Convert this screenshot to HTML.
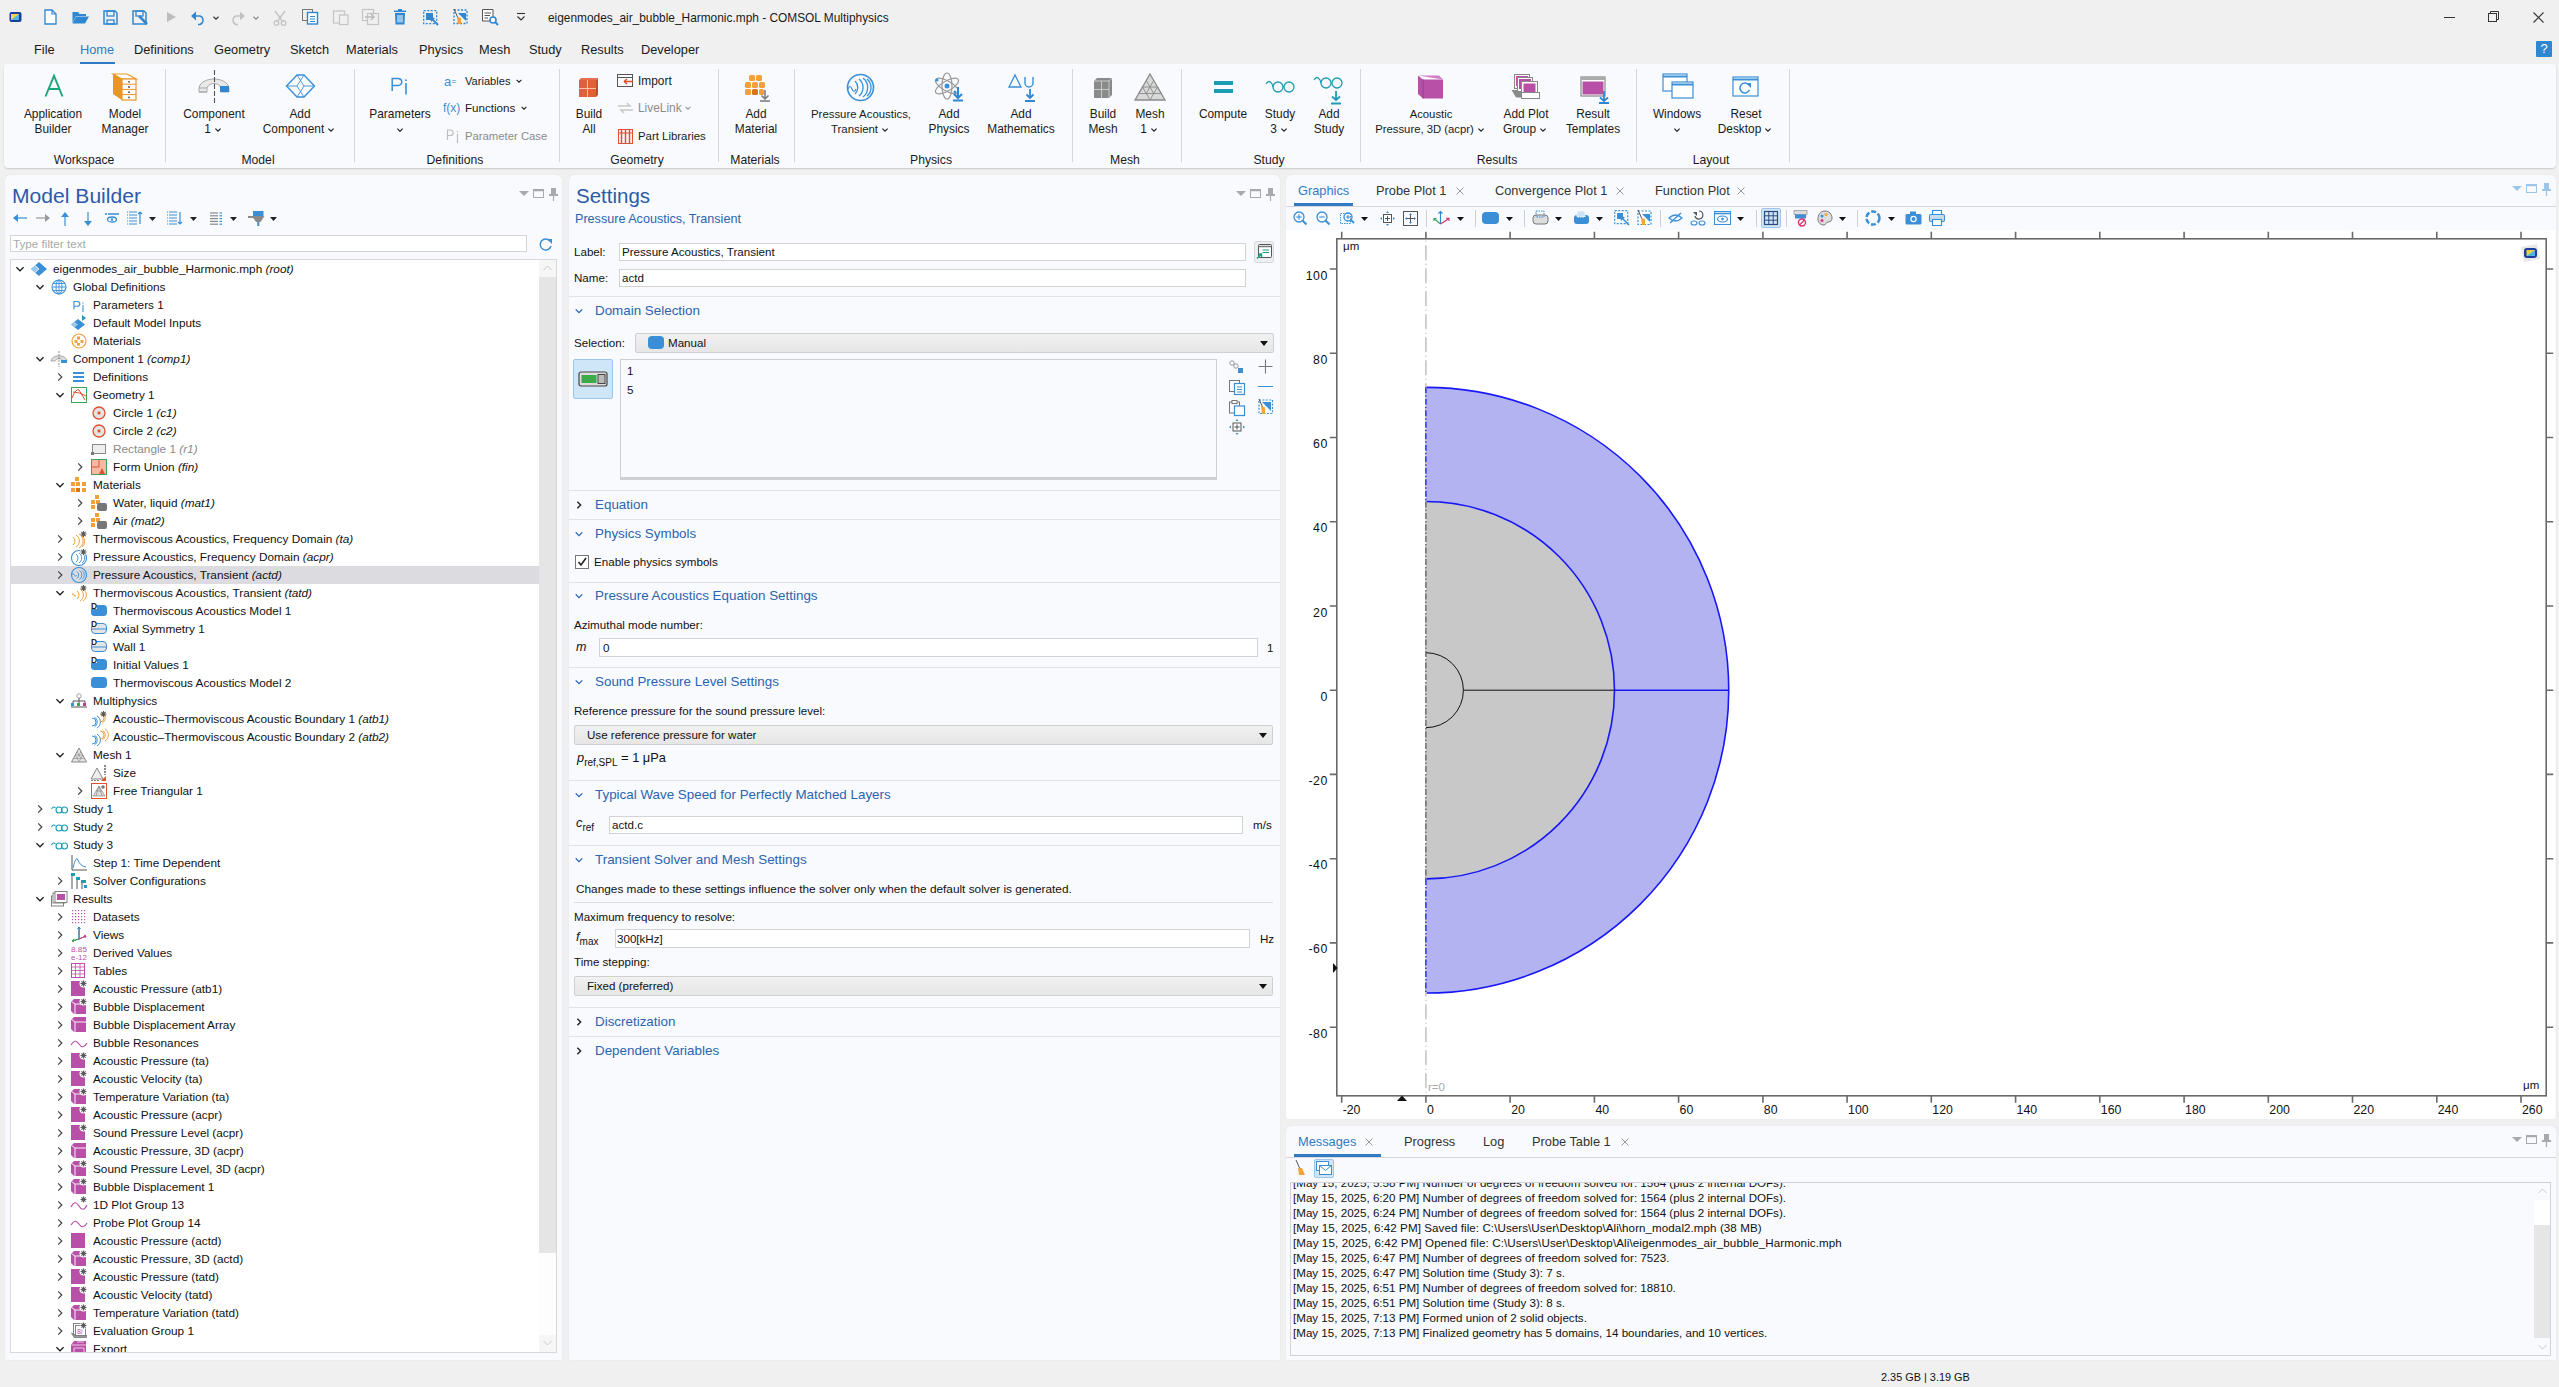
<!DOCTYPE html>
<html><head><meta charset="utf-8"><title>COMSOL</title>
<style>
html,body{margin:0;padding:0;}
body{width:2559px;height:1387px;overflow:hidden;background:#f0f0f0;font-family:"Liberation Sans",sans-serif;position:relative;}
svg text{font-family:"Liberation Sans",sans-serif;}
</style></head><body>
<svg style="position:absolute;left:9px;top:11px;overflow:visible" width="13" height="12" viewBox="0 0 13 12"><rect x="0.5" y="1" width="12" height="10" rx="2" fill="#1c3f9a"/><rect x="2" y="3" width="8" height="6" fill="#f2d64b"/><path d="M2,9 L10,3 L10,9Z" fill="#4fb3e8"/></svg><svg style="position:absolute;left:44px;top:9px;overflow:visible" width="13" height="16" viewBox="0 0 13 16"><path d="M1,1 H8 L12,5 V15 H1 Z" fill="#fff" stroke="#2f86d1" stroke-width="1.3"/><path d="M8,1 V5 H12" fill="none" stroke="#2f86d1" stroke-width="1.2"/></svg><svg style="position:absolute;left:72px;top:11px;overflow:visible" width="17" height="13" viewBox="0 0 17 13"><path d="M0.5,1 H6 L7.5,3 H14 V5 H4 L0.5,12 Z" fill="#2f86d1"/><path d="M4,5.5 H17 L13,12.5 H0.5 Z" fill="#2f86d1"/></svg><svg style="position:absolute;left:103px;top:10px;overflow:visible" width="15" height="15" viewBox="0 0 15 15"><path d="M1,1 H12 L14,3 V14 H1 Z" fill="none" stroke="#2f86d1" stroke-width="1.5"/><rect x="4" y="1" width="7" height="5" fill="none" stroke="#2f86d1" stroke-width="1.3"/><rect x="4" y="10" width="7" height="4" fill="none" stroke="#2f86d1" stroke-width="1.3"/></svg><svg style="position:absolute;left:132px;top:10px;overflow:visible" width="17" height="16" viewBox="0 0 17 16"><path d="M1,1 H12 L14,3 V14 H1 Z" fill="none" stroke="#2f86d1" stroke-width="1.5"/><rect x="4" y="1" width="7" height="5" fill="none" stroke="#2f86d1" stroke-width="1.3"/><path d="M7,6 L15,14" stroke="#2f86d1" stroke-width="2.5"/></svg><svg style="position:absolute;left:167px;top:12px;overflow:visible" width="9" height="10" viewBox="0 0 9 10"><path d="M0,0 L9,5 L0,10Z" fill="#bdbdbd"/></svg><svg style="position:absolute;left:190px;top:11px;overflow:visible" width="16" height="14" viewBox="0 0 16 14"><path d="M1,5 L6,0.5 L6,9.5Z" fill="#2f86d1"/><path d="M5,5 H10 A4.5,4.5 0 0 1 10,13.5 H8" fill="none" stroke="#2f86d1" stroke-width="1.4"/></svg><svg style="position:absolute;left:210px;top:12px;overflow:visible" width="12" height="12" viewBox="0 0 12 12"><path d="M3.5,4.75 L6,7.25 L8.5,4.75" fill="none" stroke="#333" stroke-width="1.2"/></svg><svg style="position:absolute;left:230px;top:11px;overflow:visible" width="16" height="14" viewBox="0 0 16 14"><path d="M15,5 L10,0.5 L10,9.5Z" fill="#c2c2c2"/><path d="M11,5 H6 A4.5,4.5 0 0 0 6,13.5 H8" fill="none" stroke="#c2c2c2" stroke-width="1.4"/></svg><svg style="position:absolute;left:250px;top:12px;overflow:visible" width="12" height="12" viewBox="0 0 12 12"><path d="M3.5,4.75 L6,7.25 L8.5,4.75" fill="none" stroke="#888" stroke-width="1.2"/></svg><svg style="position:absolute;left:273px;top:10px;overflow:visible" width="14" height="16" viewBox="0 0 14 16"><path d="M2,1 L10,12 M12,1 L4,12" stroke="#c4c4c4" stroke-width="1.4"/><circle cx="3.5" cy="13" r="2.3" fill="none" stroke="#c4c4c4" stroke-width="1.3"/><circle cx="10.5" cy="13" r="2.3" fill="none" stroke="#c4c4c4" stroke-width="1.3"/></svg><svg style="position:absolute;left:302px;top:9px;overflow:visible" width="17" height="16" viewBox="0 0 17 16"><rect x="0.5" y="0.5" width="10" height="11" fill="none" stroke="#777" stroke-width="1"/><rect x="5.5" y="3.5" width="10" height="11.5" fill="#fff" stroke="#2f86d1" stroke-width="1.4"/><path d="M8,7.5 H13 M8,10 H13 M8,12.5 H13" stroke="#2f86d1" stroke-width="1.1"/></svg><svg style="position:absolute;left:333px;top:9px;overflow:visible" width="16" height="16" viewBox="0 0 16 16"><rect x="0.5" y="2" width="11" height="12" fill="none" stroke="#c4c4c4" stroke-width="1.2"/><rect x="6.5" y="6" width="8.5" height="9.5" fill="#f0f0f0" stroke="#c4c4c4" stroke-width="1.2"/></svg><svg style="position:absolute;left:362px;top:9px;overflow:visible" width="17" height="16" viewBox="0 0 17 16"><rect x="0.5" y="0.5" width="11" height="11" fill="none" stroke="#c4c4c4" stroke-width="1.2"/><rect x="5.5" y="4.5" width="11" height="11" fill="#f0f0f0" stroke="#c4c4c4" stroke-width="1.2"/><path d="M3,8 H12 M9,5 L12,8 L9,11" fill="none" stroke="#bbb" stroke-width="1.5"/></svg><svg style="position:absolute;left:394px;top:9px;overflow:visible" width="12" height="16" viewBox="0 0 12 16"><rect x="0" y="1.5" width="12" height="1.6" fill="#2f86d1"/><rect x="4" y="0" width="4" height="2" fill="#2f86d1"/><path d="M1,4 H11 L10.5,15.5 H1.5Z" fill="#2f86d1"/><path d="M4,6 V13.5 M6,6 V13.5 M8,6 V13.5" stroke="#fff" stroke-width="1"/></svg><svg style="position:absolute;left:423px;top:10px;overflow:visible" width="16" height="15" viewBox="0 0 16 15"><rect x="0.7" y="0.7" width="13" height="13" fill="none" stroke="#2f86d1" stroke-width="1.3" stroke-dasharray="2,1.5"/><rect x="3" y="3" width="7" height="7" fill="#2f86d1"/><path d="M8,8 L15,15" stroke="#2f86d1" stroke-width="1.8"/><path d="M7,7 L12,8 L8,12Z" fill="#2f86d1"/></svg><svg style="position:absolute;left:453px;top:9px;overflow:visible" width="15" height="16" viewBox="0 0 15 16"><rect x="1" y="1" width="13" height="13.5" fill="none" stroke="#2f86d1" stroke-width="1.3" stroke-dasharray="2,1.5"/><path d="M5,4 L13,4 L13,12Z" fill="#2f86d1"/><path d="M1,0 L5,9" stroke="#555" stroke-width="1"/><path d="M4,8 L8,9 L8,15 L5,15Z" fill="#f0a43a"/></svg><svg style="position:absolute;left:482px;top:9px;overflow:visible" width="17" height="17" viewBox="0 0 17 17"><path d="M0.5,0.5 H11 V12 H0.5Z" fill="#fff" stroke="#555" stroke-width="1"/><path d="M2.5,4 H9 M2.5,6.5 H8 M2.5,9 H6" stroke="#555" stroke-width="1"/><circle cx="11" cy="11" r="3" fill="#fff" stroke="#2f86d1" stroke-width="1.6"/><path d="M13,13 L16,16" stroke="#2f86d1" stroke-width="2"/></svg><svg style="position:absolute;left:516px;top:13px;overflow:visible" width="10" height="9" viewBox="0 0 10 9"><path d="M1,0.5 H9" stroke="#333" stroke-width="1.1"/><path d="M1.5,3.5 L5,7 L8.5,3.5" fill="none" stroke="#333" stroke-width="1.2"/></svg><div style="position:absolute;left:548px;top:8.5px;line-height:18px;font-size:11.9px;color:#1a1a1a;white-space:nowrap;">eigenmodes_air_bubble_Harmonic.mph - COMSOL Multiphysics</div><div style="position:absolute;left:2444px;top:17px;width:11px;height:1px;background:#333"></div><svg style="position:absolute;left:2488px;top:11px;overflow:visible" width="11" height="11" viewBox="0 0 11 11"><rect x="0.5" y="2.5" width="8" height="8" fill="none" stroke="#333" stroke-width="1"/><path d="M2.5,2.5 V0.5 H10.5 V8.5 H8.5" fill="none" stroke="#333" stroke-width="1"/></svg><svg style="position:absolute;left:2533px;top:12px;overflow:visible" width="11" height="11" viewBox="0 0 11 11"><path d="M0.5,0.5 L10.5,10.5 M10.5,0.5 L0.5,10.5" stroke="#333" stroke-width="1.1"/></svg><div style="position:absolute;left:34px;top:40.5px;line-height:18px;font-size:12.8px;color:#1a1a1a;white-space:nowrap;">File</div><div style="position:absolute;left:80px;top:40.5px;line-height:18px;font-size:12.8px;color:#2f7cc4;white-space:nowrap;">Home</div><div style="position:absolute;left:134px;top:40.5px;line-height:18px;font-size:12.8px;color:#1a1a1a;white-space:nowrap;">Definitions</div><div style="position:absolute;left:214px;top:40.5px;line-height:18px;font-size:12.8px;color:#1a1a1a;white-space:nowrap;">Geometry</div><div style="position:absolute;left:290px;top:40.5px;line-height:18px;font-size:12.8px;color:#1a1a1a;white-space:nowrap;">Sketch</div><div style="position:absolute;left:346px;top:40.5px;line-height:18px;font-size:12.8px;color:#1a1a1a;white-space:nowrap;">Materials</div><div style="position:absolute;left:419px;top:40.5px;line-height:18px;font-size:12.8px;color:#1a1a1a;white-space:nowrap;">Physics</div><div style="position:absolute;left:479px;top:40.5px;line-height:18px;font-size:12.8px;color:#1a1a1a;white-space:nowrap;">Mesh</div><div style="position:absolute;left:529px;top:40.5px;line-height:18px;font-size:12.8px;color:#1a1a1a;white-space:nowrap;">Study</div><div style="position:absolute;left:581px;top:40.5px;line-height:18px;font-size:12.8px;color:#1a1a1a;white-space:nowrap;">Results</div><div style="position:absolute;left:641px;top:40.5px;line-height:18px;font-size:12.8px;color:#1a1a1a;white-space:nowrap;">Developer</div><div style="position:absolute;left:80px;top:62px;width:35px;height:2px;background:#2f7cc4"></div><div style="position:absolute;left:2536px;top:41px;width:16px;height:16px;background:#2f86d1;border-radius:1px"></div><div style="position:absolute;left:2536.0px;top:41.0px;width:16px;text-align:center;line-height:16px;font-size:13px;color:#fff;white-space:nowrap;">?</div><div style="position:absolute;left:4px;top:64px;width:2552px;height:104px;background:#f9fafd;border-radius:4px;box-shadow:0 1px 1.5px rgba(0,0,0,0.16)"></div><div style="position:absolute;left:165px;top:69px;width:1px;height:93px;background:#d6d6d9"></div><div style="position:absolute;left:354px;top:69px;width:1px;height:93px;background:#d6d6d9"></div><div style="position:absolute;left:559px;top:69px;width:1px;height:93px;background:#d6d6d9"></div><div style="position:absolute;left:718px;top:69px;width:1px;height:93px;background:#d6d6d9"></div><div style="position:absolute;left:794px;top:69px;width:1px;height:93px;background:#d6d6d9"></div><div style="position:absolute;left:1072px;top:69px;width:1px;height:93px;background:#d6d6d9"></div><div style="position:absolute;left:1181px;top:69px;width:1px;height:93px;background:#d6d6d9"></div><div style="position:absolute;left:1360px;top:69px;width:1px;height:93px;background:#d6d6d9"></div><div style="position:absolute;left:1636px;top:69px;width:1px;height:93px;background:#d6d6d9"></div><div style="position:absolute;left:1789px;top:69px;width:1px;height:93px;background:#d6d6d9"></div><svg style="position:absolute;left:44px;top:75px;overflow:visible" width="20" height="22" viewBox="0 0 20 22"><path d="M1.5,21.5 L10,0.8 L18.5,21.5 M4.8,14 H15.2" fill="none" stroke="#1ba57d" stroke-width="1.9"/></svg><div style="position:absolute;left:-67.0px;top:105.0px;width:240px;text-align:center;line-height:18px;font-size:11.9px;color:#1a1a1a;white-space:nowrap;">Application</div><div style="position:absolute;left:-67.0px;top:120.0px;width:240px;text-align:center;line-height:18px;font-size:11.9px;color:#1a1a1a;white-space:nowrap;">Builder</div><svg style="position:absolute;left:112px;top:73px;overflow:visible" width="26" height="28" viewBox="0 0 26 28"><path d="M1,1 L10,6 V27 L1,21Z" fill="#e8962a"/><path d="M1,1 H15 L24,6 H10Z" fill="#fff" stroke="#e8962a" stroke-width="1.2"/><rect x="10" y="6" width="14" height="21" fill="#fff" stroke="#e8962a" stroke-width="1.2"/><path d="M10,11.2 H24 M10,16.4 H24 M10,21.6 H24" stroke="#e8962a" stroke-width="1"/><g fill="#444"><circle cx="17" cy="8.8" r="0.9"/><circle cx="17" cy="14" r="0.9"/><circle cx="17" cy="19.2" r="0.9"/><circle cx="17" cy="24.4" r="0.9"/></g></svg><div style="position:absolute;left:5.0px;top:105.0px;width:240px;text-align:center;line-height:18px;font-size:11.9px;color:#1a1a1a;white-space:nowrap;">Model</div><div style="position:absolute;left:5.0px;top:120.0px;width:240px;text-align:center;line-height:18px;font-size:11.9px;color:#1a1a1a;white-space:nowrap;">Manager</div><div style="position:absolute;left:4px;top:151px;width:2552px;height:0px;"></div><div style="position:absolute;left:-16.0px;top:150.5px;width:200px;text-align:center;line-height:18px;font-size:12.2px;color:#1a1a1a;white-space:nowrap;">Workspace</div><svg style="position:absolute;left:198px;top:70px;overflow:visible" width="33" height="34" viewBox="0 0 33 34"><path d="M1,18 C3,6 29,6 31,18 L31,22 L23,22 L23,18 C21,12 11,12 9,18 L9,22 L1,22Z" fill="#e8e8e8" stroke="#a8a8a8" stroke-width="1"/><path d="M1,18 H9 M1,22 H9" stroke="#a8a8a8" stroke-width="1"/><rect x="22" y="16" width="9" height="6" fill="#2f86d1"/><path d="M16.5,0 V34" stroke="#555" stroke-width="1.1" stroke-dasharray="5,2"/></svg><div style="position:absolute;left:94.0px;top:105.0px;width:240px;text-align:center;line-height:18px;font-size:11.9px;color:#1a1a1a;white-space:nowrap;">Component</div><div style="position:absolute;left:94px;top:120px;width:240px;text-align:center;line-height:18px;font-size:11.9px;color:#1a1a1a;white-space:nowrap">1<svg width="12" height="10" style="vertical-align:middle;margin-left:1px" viewBox="0 0 12 10"><path d="M3.4,3.6 L6,6.2 L8.6,3.6" fill="none" stroke="#222" stroke-width="1.2"/></svg></div><svg style="position:absolute;left:285px;top:74px;overflow:visible" width="31" height="24" viewBox="0 0 31 24"><path d="M1.5,12 L12,1 H19 L29.5,12 L19,23 H12Z" fill="none" stroke="#3a8fd6" stroke-width="1.4"/><path d="M12,1 L19,12 L12,23 M19,1 L12,12 L19,23 M1.5,12 H12 M19,12 H29.5" fill="none" stroke="#3a8fd6" stroke-width="0.9"/></svg><div style="position:absolute;left:180.0px;top:105.0px;width:240px;text-align:center;line-height:18px;font-size:11.9px;color:#1a1a1a;white-space:nowrap;">Add</div><div style="position:absolute;left:180px;top:120px;width:240px;text-align:center;line-height:18px;font-size:11.9px;color:#1a1a1a;white-space:nowrap">Component<svg width="12" height="10" style="vertical-align:middle;margin-left:1px" viewBox="0 0 12 10"><path d="M3.4,3.6 L6,6.2 L8.6,3.6" fill="none" stroke="#222" stroke-width="1.2"/></svg></div><div style="position:absolute;left:158.0px;top:150.5px;width:200px;text-align:center;line-height:18px;font-size:12.2px;color:#1a1a1a;white-space:nowrap;">Model</div><svg style="position:absolute;left:390px;top:77px;overflow:visible" width="20" height="20" viewBox="0 0 20 20"><path d="M2.2,14 V1.6 H7.5 C13.2,1.6 13.2,8.6 7.5,8.6 H2.2" fill="none" stroke="#3a8fd6" stroke-width="1.5"/><path d="M16,6 V17.5" stroke="#3a8fd6" stroke-width="1.6"/><circle cx="16" cy="3.2" r="0.9" fill="#3a8fd6"/></svg><div style="position:absolute;left:280.0px;top:105.0px;width:240px;text-align:center;line-height:18px;font-size:11.9px;color:#1a1a1a;white-space:nowrap;">Parameters</div><svg style="position:absolute;left:394px;top:124px;overflow:visible" width="12" height="12" viewBox="0 0 12 12"><path d="M3.4,4.7 L6,7.3 L8.6,4.7" fill="none" stroke="#222" stroke-width="1.2"/></svg><div style="position:absolute;left:444px;top:72.0px;line-height:18px;font-size:13px;color:#3a8fd6;white-space:nowrap;">a<span style="font-size:9px;vertical-align:2px">=</span></div><div style="position:absolute;left:465px;top:71.5px;line-height:18px;font-size:11.1px;color:#1a1a1a;white-space:nowrap;">Variables</div><svg style="position:absolute;left:513px;top:75px;overflow:visible" width="12" height="12" viewBox="0 0 12 12"><path d="M3.6,4.8 L6,7.2 L8.4,4.8" fill="none" stroke="#222" stroke-width="1.1"/></svg><div style="position:absolute;left:443px;top:99.0px;line-height:18px;font-size:12px;color:#3a8fd6;white-space:nowrap;">f(x)</div><div style="position:absolute;left:465px;top:98.5px;line-height:18px;font-size:11.6px;color:#1a1a1a;white-space:nowrap;">Functions</div><svg style="position:absolute;left:518px;top:102px;overflow:visible" width="12" height="12" viewBox="0 0 12 12"><path d="M3.6,4.8 L6,7.2 L8.4,4.8" fill="none" stroke="#222" stroke-width="1.1"/></svg><svg style="position:absolute;left:446px;top:129px;overflow:visible" width="14" height="15" viewBox="0 0 14 15"><path d="M1.5,11 V1 H4.5 C8,1 8,6.5 4.5,6.5 H1.5" fill="none" stroke="#bdbdbd" stroke-width="1.2"/><path d="M11.5,5 V14" stroke="#bdbdbd" stroke-width="1.2"/><circle cx="11.5" cy="2.8" r="0.7" fill="#bdbdbd"/></svg><div style="position:absolute;left:465px;top:126.5px;line-height:18px;font-size:11.3px;color:#8c8c8c;white-space:nowrap;">Parameter Case</div><div style="position:absolute;left:355.0px;top:150.5px;width:200px;text-align:center;line-height:18px;font-size:12.2px;color:#1a1a1a;white-space:nowrap;">Definitions</div><svg style="position:absolute;left:578px;top:77px;overflow:visible" width="21" height="21" viewBox="0 0 21 21"><path d="M1,3 L3,1 H20 L18,3Z" fill="#e86f4d"/><path d="M18,3 L20,1 V18 L18,20Z" fill="#c94a2a"/><rect x="1" y="3" width="17" height="17" fill="#e0603c"/><path d="M9.5,3 V20 M1,11.5 H18" stroke="#f7c1b0" stroke-width="1"/></svg><div style="position:absolute;left:469.0px;top:105.0px;width:240px;text-align:center;line-height:18px;font-size:11.9px;color:#1a1a1a;white-space:nowrap;">Build</div><div style="position:absolute;left:469.0px;top:120.0px;width:240px;text-align:center;line-height:18px;font-size:11.9px;color:#1a1a1a;white-space:nowrap;">All</div><svg style="position:absolute;left:617px;top:74px;overflow:visible" width="17" height="14" viewBox="0 0 17 14"><rect x="0.5" y="0.5" width="15" height="12" fill="none" stroke="#555" stroke-width="1"/><path d="M0.5,3.5 H15.5" stroke="#555"/><path d="M7,7.5 H16 M7,7.5 L10,5 M7,7.5 L10,10" fill="none" stroke="#e0522d" stroke-width="1.5"/></svg><div style="position:absolute;left:638px;top:71.5px;line-height:18px;font-size:11.9px;color:#1a1a1a;white-space:nowrap;">Import</div><svg style="position:absolute;left:617px;top:102px;overflow:visible" width="17" height="12" viewBox="0 0 17 12"><path d="M1,4 H13 L10,1 M16,8 H4 L7,11" fill="none" stroke="#c8c8c8" stroke-width="1.5"/></svg><div style="position:absolute;left:638px;top:98.5px;line-height:18px;font-size:11.9px;color:#8c8c8c;white-space:nowrap;">LiveLink</div><svg style="position:absolute;left:682px;top:102px;overflow:visible" width="12" height="12" viewBox="0 0 12 12"><path d="M3.6,4.8 L6,7.2 L8.4,4.8" fill="none" stroke="#999" stroke-width="1.1"/></svg><svg style="position:absolute;left:618px;top:129px;overflow:visible" width="15" height="15" viewBox="0 0 15 15"><rect x="0.5" y="0.5" width="14" height="14" fill="none" stroke="#e0522d" stroke-width="1"/><path d="M3.5,1 V14 M7.5,1 V14 M11.5,1 V14" stroke="#e0522d" stroke-width="1.5"/><path d="M1,4 H14" stroke="#e0522d"/></svg><div style="position:absolute;left:638px;top:126.5px;line-height:18px;font-size:11.4px;color:#1a1a1a;white-space:nowrap;">Part Libraries</div><div style="position:absolute;left:537.0px;top:150.5px;width:200px;text-align:center;line-height:18px;font-size:12.2px;color:#1a1a1a;white-space:nowrap;">Geometry</div><svg style="position:absolute;left:744px;top:74px;overflow:visible" width="28" height="28" viewBox="0 0 28 28"><g fill="#f0a13a"><rect x="5" y="1" width="6" height="6" rx="1.5"/><rect x="12" y="1" width="6" height="6" rx="1.5"/><rect x="1" y="8" width="6" height="6" rx="1.5"/><rect x="8" y="8" width="6" height="6" rx="1.5"/><rect x="15" y="8" width="6" height="6" rx="1.5"/><rect x="1" y="15" width="6" height="6" rx="1.5"/><rect x="15" y="15" width="5" height="6" rx="1.5"/></g><rect x="8" y="15" width="6" height="6" rx="1.5" fill="#d2781c"/><path d="M21,16 V25 M17.5,21.5 L21,25 L24.5,21.5 M16,27 H26" fill="none" stroke="#777" stroke-width="1.5"/></svg><div style="position:absolute;left:636.0px;top:105.0px;width:240px;text-align:center;line-height:18px;font-size:11.9px;color:#1a1a1a;white-space:nowrap;">Add</div><div style="position:absolute;left:636.0px;top:120.0px;width:240px;text-align:center;line-height:18px;font-size:11.9px;color:#1a1a1a;white-space:nowrap;">Material</div><div style="position:absolute;left:655.0px;top:150.5px;width:200px;text-align:center;line-height:18px;font-size:12.2px;color:#1a1a1a;white-space:nowrap;">Materials</div><svg style="position:absolute;left:846px;top:73px;overflow:visible" width="29" height="29" viewBox="0 0 29 29"><circle cx="14.5" cy="14.5" r="13" fill="none" stroke="#3a8fd6" stroke-width="1.6"/><path d="M9,8 A9,9 0 0 1 9,21 M13,6 A11,11 0 0 1 13,23 M17,5 A12,12 0 0 1 17,24 M21,6 A11,11 0 0 1 21,23" fill="none" stroke="#3a8fd6" stroke-width="1.3"/><path d="M2,16 Q4,11 6,16 T10,16" fill="none" stroke="#3a8fd6" stroke-width="1.2"/></svg><div style="position:absolute;left:741.0px;top:105.0px;width:240px;text-align:center;line-height:18px;font-size:11.4px;color:#1a1a1a;white-space:nowrap;">Pressure Acoustics,</div><div style="position:absolute;left:741px;top:120px;width:240px;text-align:center;line-height:18px;font-size:11.4px;color:#1a1a1a;white-space:nowrap">Transient<svg width="12" height="10" style="vertical-align:middle;margin-left:1px" viewBox="0 0 12 10"><path d="M3.4,3.6 L6,6.2 L8.6,3.6" fill="none" stroke="#222" stroke-width="1.2"/></svg></div><svg style="position:absolute;left:934px;top:71px;overflow:visible" width="30" height="31" viewBox="0 0 30 31"><ellipse cx="13" cy="15" rx="13" ry="5" fill="none" stroke="#999" stroke-width="1.2" transform="rotate(30 13 15)"/><ellipse cx="13" cy="15" rx="13" ry="5" fill="none" stroke="#999" stroke-width="1.2" transform="rotate(-30 13 15)"/><ellipse cx="13" cy="15" rx="5" ry="13" fill="none" stroke="#999" stroke-width="1.2"/><circle cx="13" cy="15" r="2.5" fill="#3a8fd6"/><circle cx="3" cy="9" r="1.6" fill="#3a8fd6"/><circle cx="21" cy="21" r="1.6" fill="#3a8fd6"/><path d="M24,16 V27 M20,23 L24,27 L28,23 M19,29.5 H29" fill="none" stroke="#2f86d1" stroke-width="2"/></svg><div style="position:absolute;left:829.0px;top:105.0px;width:240px;text-align:center;line-height:18px;font-size:11.9px;color:#1a1a1a;white-space:nowrap;">Add</div><div style="position:absolute;left:829.0px;top:120.0px;width:240px;text-align:center;line-height:18px;font-size:11.9px;color:#1a1a1a;white-space:nowrap;">Physics</div><svg style="position:absolute;left:1008px;top:73px;overflow:visible" width="28" height="30" viewBox="0 0 28 30"><path d="M1,14 L7,2 L13,14Z" fill="none" stroke="#3a8fd6" stroke-width="1.3"/><path d="M17,4 V10 A4,4 0 0 0 25,10 V4" fill="none" stroke="#3a8fd6" stroke-width="1.4"/><path d="M22,16 V25 M18.5,21.5 L22,25 L25.5,21.5 M17,28 H27" fill="none" stroke="#2f86d1" stroke-width="1.8"/></svg><div style="position:absolute;left:901.0px;top:105.0px;width:240px;text-align:center;line-height:18px;font-size:11.9px;color:#1a1a1a;white-space:nowrap;">Add</div><div style="position:absolute;left:901.0px;top:120.0px;width:240px;text-align:center;line-height:18px;font-size:11.9px;color:#1a1a1a;white-space:nowrap;">Mathematics</div><div style="position:absolute;left:831.0px;top:150.5px;width:200px;text-align:center;line-height:18px;font-size:12.2px;color:#1a1a1a;white-space:nowrap;">Physics</div><svg style="position:absolute;left:1093px;top:77px;overflow:visible" width="20" height="22" viewBox="0 0 20 22"><path d="M1,4 L4,1 H19 V18 L16,21 H1Z" fill="#8a8a8a"/><path d="M1,4 H16 V21 M16,4 L19,1 M8.5,4 V21 M1,12.5 H16" fill="none" stroke="#c8c8c8" stroke-width="1"/></svg><div style="position:absolute;left:983.0px;top:105.0px;width:240px;text-align:center;line-height:18px;font-size:11.9px;color:#1a1a1a;white-space:nowrap;">Build</div><div style="position:absolute;left:983.0px;top:120.0px;width:240px;text-align:center;line-height:18px;font-size:11.9px;color:#1a1a1a;white-space:nowrap;">Mesh</div><svg style="position:absolute;left:1134px;top:73px;overflow:visible" width="32" height="28" viewBox="0 0 32 28"><path d="M16,1 L31,27 H1Z" fill="#d8d8d8" stroke="#8a8a8a" stroke-width="1.3"/><path d="M8.5,14 H23.5 M4.7,20.5 H27.3 M12.2,7.5 L19.7,20.5 M19.7,7.5 L12.2,20.5 M8.5,14 L16,27 M23.5,14 L16,27 M8.5,14 L4.7,20.5 M23.5,14 L27.3,20.5" fill="none" stroke="#8a8a8a" stroke-width="0.9"/></svg><div style="position:absolute;left:1030.0px;top:105.0px;width:240px;text-align:center;line-height:18px;font-size:11.9px;color:#1a1a1a;white-space:nowrap;">Mesh</div><div style="position:absolute;left:1030px;top:120px;width:240px;text-align:center;line-height:18px;font-size:11.9px;color:#1a1a1a;white-space:nowrap">1<svg width="12" height="10" style="vertical-align:middle;margin-left:1px" viewBox="0 0 12 10"><path d="M3.4,3.6 L6,6.2 L8.6,3.6" fill="none" stroke="#222" stroke-width="1.2"/></svg></div><div style="position:absolute;left:1025.0px;top:150.5px;width:200px;text-align:center;line-height:18px;font-size:12.2px;color:#1a1a1a;white-space:nowrap;">Mesh</div><div style="position:absolute;left:1214px;top:81px;width:19px;height:4px;background:#1f9bb6"></div><div style="position:absolute;left:1214px;top:89px;width:19px;height:4px;background:#1f9bb6"></div><div style="position:absolute;left:1123.0px;top:105.0px;width:200px;text-align:center;line-height:18px;font-size:11.9px;color:#1a1a1a;white-space:nowrap;">Compute</div><svg style="position:absolute;left:1265px;top:78px;overflow:visible" width="30" height="16" viewBox="0 0 30 16"><path d="M1,6 Q4,1 7,6" fill="none" stroke="#1f9bb6" stroke-width="1.3"/><circle cx="13" cy="9" r="5" fill="none" stroke="#1f9bb6" stroke-width="1.3"/><circle cx="24" cy="9" r="5" fill="none" stroke="#1f9bb6" stroke-width="1.3"/><path d="M7,6 Q8,9 8,9 M18,9 H19" stroke="#1f9bb6" stroke-width="1.2"/></svg><div style="position:absolute;left:1160.0px;top:105.0px;width:240px;text-align:center;line-height:18px;font-size:11.9px;color:#1a1a1a;white-space:nowrap;">Study</div><div style="position:absolute;left:1160px;top:120px;width:240px;text-align:center;line-height:18px;font-size:11.9px;color:#1a1a1a;white-space:nowrap">3<svg width="12" height="10" style="vertical-align:middle;margin-left:1px" viewBox="0 0 12 10"><path d="M3.4,3.6 L6,6.2 L8.6,3.6" fill="none" stroke="#222" stroke-width="1.2"/></svg></div><svg style="position:absolute;left:1313px;top:74px;overflow:visible" width="30" height="16" viewBox="0 0 30 16"><path d="M1,6 Q4,1 7,6" fill="none" stroke="#1f9bb6" stroke-width="1.3"/><circle cx="13" cy="9" r="5" fill="none" stroke="#1f9bb6" stroke-width="1.3"/><circle cx="24" cy="9" r="5" fill="none" stroke="#1f9bb6" stroke-width="1.3"/><path d="M7,6 Q8,9 8,9 M18,9 H19" stroke="#1f9bb6" stroke-width="1.2"/></svg><svg style="position:absolute;left:1330px;top:91px;overflow:visible" width="12" height="14" viewBox="0 0 12 14"><path d="M6,0 V9 M2,5.5 L6,9 L10,5.5 M1,12.5 H11" fill="none" stroke="#1f9bb6" stroke-width="1.8"/></svg><div style="position:absolute;left:1209.0px;top:105.0px;width:240px;text-align:center;line-height:18px;font-size:11.9px;color:#1a1a1a;white-space:nowrap;">Add</div><div style="position:absolute;left:1209.0px;top:120.0px;width:240px;text-align:center;line-height:18px;font-size:11.9px;color:#1a1a1a;white-space:nowrap;">Study</div><div style="position:absolute;left:1169.0px;top:150.5px;width:200px;text-align:center;line-height:18px;font-size:12.2px;color:#1a1a1a;white-space:nowrap;">Study</div><svg style="position:absolute;left:1417px;top:74px;overflow:visible" width="27" height="25" viewBox="0 0 27 25"><path d="M1,1.5 L6,5.5 H26 V24.5 H6 L1,20Z" fill="#b950a8"/><path d="M1,1.5 H22 L26,5.5" fill="#d37cc6"/><path d="M6,5.5 V24.5" stroke="#9a3a8c" stroke-width="1"/></svg><div style="position:absolute;left:1311.0px;top:105.0px;width:240px;text-align:center;line-height:18px;font-size:11.3px;color:#1a1a1a;white-space:nowrap;">Acoustic</div><div style="position:absolute;left:1311px;top:120px;width:240px;text-align:center;line-height:18px;font-size:11.3px;color:#1a1a1a;white-space:nowrap">Pressure, 3D (acpr)<svg width="12" height="10" style="vertical-align:middle;margin-left:1px" viewBox="0 0 12 10"><path d="M3.4,3.6 L6,6.2 L8.6,3.6" fill="none" stroke="#222" stroke-width="1.2"/></svg></div><svg style="position:absolute;left:1511px;top:74px;overflow:visible" width="30" height="27" viewBox="0 0 30 27"><path d="M0.5,16 L5,23.5 H10 V16Z" fill="#8a8a8a"/><rect x="3.5" y="0.5" width="15" height="14" fill="#fff" stroke="#888"/><rect x="5" y="2" width="12" height="10" fill="#b950a8"/><rect x="6.5" y="3.5" width="15" height="14" fill="#fff" stroke="#888"/><rect x="8" y="5" width="12" height="10" fill="#b950a8"/><rect x="10.5" y="7.5" width="16" height="15" fill="#fff" stroke="#888"/><rect x="12.5" y="9.5" width="12" height="9" fill="#b950a8"/><rect x="10.5" y="18.5" width="18" height="6" fill="#fff" stroke="#888"/></svg><div style="position:absolute;left:1406.0px;top:105.0px;width:240px;text-align:center;line-height:18px;font-size:11.9px;color:#1a1a1a;white-space:nowrap;">Add Plot</div><div style="position:absolute;left:1406px;top:120px;width:240px;text-align:center;line-height:18px;font-size:11.9px;color:#1a1a1a;white-space:nowrap">Group<svg width="12" height="10" style="vertical-align:middle;margin-left:1px" viewBox="0 0 12 10"><path d="M3.4,3.6 L6,6.2 L8.6,3.6" fill="none" stroke="#222" stroke-width="1.2"/></svg></div><svg style="position:absolute;left:1580px;top:76px;overflow:visible" width="29" height="28" viewBox="0 0 29 28"><rect x="1" y="1" width="24" height="19" fill="#fff" stroke="#888" stroke-width="1.2"/><rect x="1" y="1" width="24" height="3" fill="#aaa"/><rect x="2.5" y="5.5" width="21" height="13" fill="#b950a8"/><path d="M24,15 V25 M20,21.5 L24,25 L28,21.5 M19,27 H29" fill="none" stroke="#2f86d1" stroke-width="1.8"/></svg><div style="position:absolute;left:1473.0px;top:105.0px;width:240px;text-align:center;line-height:18px;font-size:11.9px;color:#1a1a1a;white-space:nowrap;">Result</div><div style="position:absolute;left:1473.0px;top:120.0px;width:240px;text-align:center;line-height:18px;font-size:11.9px;color:#1a1a1a;white-space:nowrap;">Templates</div><div style="position:absolute;left:1397.0px;top:150.5px;width:200px;text-align:center;line-height:18px;font-size:12.2px;color:#1a1a1a;white-space:nowrap;">Results</div><svg style="position:absolute;left:1662px;top:73px;overflow:visible" width="32" height="26" viewBox="0 0 32 26"><rect x="1" y="1" width="24" height="17" fill="#fff" stroke="#3a8fd6" stroke-width="1.2"/><path d="M1,3.5 H25" stroke="#3a8fd6" stroke-width="2"/><rect x="10" y="9" width="21" height="16" fill="#fff" stroke="#3a8fd6" stroke-width="1.2"/><path d="M10,11.5 H31" stroke="#3a8fd6" stroke-width="2"/></svg><div style="position:absolute;left:1577.0px;top:105.0px;width:200px;text-align:center;line-height:18px;font-size:11.9px;color:#1a1a1a;white-space:nowrap;">Windows</div><svg style="position:absolute;left:1671px;top:124px;overflow:visible" width="12" height="12" viewBox="0 0 12 12"><path d="M3.4,4.7 L6,7.3 L8.6,4.7" fill="none" stroke="#222" stroke-width="1.2"/></svg><svg style="position:absolute;left:1732px;top:76px;overflow:visible" width="27" height="21" viewBox="0 0 27 21"><rect x="1" y="1" width="25" height="19" fill="#fff" stroke="#3a8fd6" stroke-width="1.2"/><path d="M1,3.5 H26" stroke="#3a8fd6" stroke-width="2"/><path d="M17,9 A5,5 0 1 0 17.5,14" fill="none" stroke="#3a8fd6" stroke-width="1.6"/><path d="M14,7 H19 V12Z" fill="#3a8fd6"/></svg><div style="position:absolute;left:1626.0px;top:105.0px;width:240px;text-align:center;line-height:18px;font-size:11.9px;color:#1a1a1a;white-space:nowrap;">Reset</div><div style="position:absolute;left:1626px;top:120px;width:240px;text-align:center;line-height:18px;font-size:11.9px;color:#1a1a1a;white-space:nowrap">Desktop<svg width="12" height="10" style="vertical-align:middle;margin-left:1px" viewBox="0 0 12 10"><path d="M3.4,3.6 L6,6.2 L8.6,3.6" fill="none" stroke="#222" stroke-width="1.2"/></svg></div><div style="position:absolute;left:1611.0px;top:150.5px;width:200px;text-align:center;line-height:18px;font-size:12.2px;color:#1a1a1a;white-space:nowrap;">Layout</div><div style="position:absolute;left:5px;top:175px;width:557px;height:1185px;background:#f9fafd;border-radius:5px 5px 1px 1px;box-shadow:0 0 1px rgba(0,0,0,0.12)"></div><div style="position:absolute;left:12px;top:181.5px;line-height:28px;font-size:21.1px;color:#2b5ba8;white-space:nowrap;">Model Builder</div><svg style="position:absolute;left:519px;top:191px;overflow:visible" width="10" height="6" viewBox="0 0 10 6"><path d="M0,0 H10 L5,5Z" fill="#a8a8ad"/></svg><svg style="position:absolute;left:533px;top:189px;overflow:visible" width="11" height="10" viewBox="0 0 11 10"><rect x="0.5" y="0.5" width="10" height="8" fill="none" stroke="#a8a8ad" stroke-width="1"/><path d="M0.5,1.5 H10.5" stroke="#a8a8ad" stroke-width="1.5"/></svg><svg style="position:absolute;left:549px;top:188px;overflow:visible" width="9" height="13" viewBox="0 0 9 13"><rect x="2" y="0" width="5" height="7" fill="#a8a8ad"/><rect x="0" y="6" width="9" height="2" fill="#a8a8ad"/><path d="M4.5,8 V13" stroke="#a8a8ad" stroke-width="1.2"/></svg><svg style="position:absolute;left:13px;top:213px;overflow:visible" width="14" height="10" viewBox="0 0 14 10"><path d="M0,5 L5,1 V9Z" fill="#3a8fd6"/><path d="M4,5 H14" stroke="#3a8fd6" stroke-width="1.2"/></svg><svg style="position:absolute;left:36px;top:213px;overflow:visible" width="14" height="10" viewBox="0 0 14 10"><path d="M14,5 L9,1 V9Z" fill="#999"/><path d="M0,5 H10" stroke="#999" stroke-width="1.2"/></svg><svg style="position:absolute;left:60px;top:212px;overflow:visible" width="10" height="14" viewBox="0 0 10 14"><path d="M5,0 L1,5 H9Z" fill="#3a8fd6"/><path d="M5,4 V14" stroke="#3a8fd6" stroke-width="1.2"/></svg><svg style="position:absolute;left:83px;top:212px;overflow:visible" width="10" height="14" viewBox="0 0 10 14"><path d="M5,14 L1,9 H9Z" fill="#3a8fd6"/><path d="M5,0 V10" stroke="#3a8fd6" stroke-width="1.2"/></svg><svg style="position:absolute;left:105px;top:213px;overflow:visible" width="14" height="10" viewBox="0 0 14 10"><path d="M0,1 H2 M3,1 H14" stroke="#3a8fd6" stroke-width="1.5"/><ellipse cx="7" cy="6.5" rx="4.5" ry="2.5" fill="none" stroke="#3a8fd6" stroke-width="1.3"/><circle cx="7" cy="6.5" r="1.2" fill="#3a8fd6"/></svg><svg style="position:absolute;left:127px;top:211px;overflow:visible" width="16" height="15" viewBox="0 0 16 15"><path d="M0,1 H1 M2,1 H10" stroke="#3a8fd6" stroke-width="1"/><path d="M0,4 H1 M2,4 H10" stroke="#3a8fd6" stroke-width="1"/><path d="M0,7 H1 M2,7 H10" stroke="#3a8fd6" stroke-width="1"/><path d="M0,10 H1 M2,10 H10" stroke="#3a8fd6" stroke-width="1"/><path d="M0,13 H1 M2,13 H10" stroke="#3a8fd6" stroke-width="1"/><path d="M13,1 V13 M11,3 L13,1 L15,3" fill="none" stroke="#3a8fd6" stroke-width="1.2"/></svg><svg style="position:absolute;left:148.5px;top:217.0px;overflow:visible" width="7" height="4" viewBox="0 0 7 4"><path d="M0,0 L7,0 L3.5,4 Z" fill="#222"/></svg><svg style="position:absolute;left:167px;top:211px;overflow:visible" width="16" height="15" viewBox="0 0 16 15"><path d="M0,1 H1 M2,1 H10" stroke="#3a8fd6" stroke-width="1"/><path d="M0,4 H1 M2,4 H10" stroke="#3a8fd6" stroke-width="1"/><path d="M0,7 H1 M2,7 H10" stroke="#3a8fd6" stroke-width="1"/><path d="M0,10 H1 M2,10 H10" stroke="#3a8fd6" stroke-width="1"/><path d="M0,13 H1 M2,13 H10" stroke="#3a8fd6" stroke-width="1"/><path d="M13,1 V13 M11,11 L13,13 L15,11" fill="none" stroke="#3a8fd6" stroke-width="1.2"/></svg><svg style="position:absolute;left:189.5px;top:217.0px;overflow:visible" width="7" height="4" viewBox="0 0 7 4"><path d="M0,0 L7,0 L3.5,4 Z" fill="#222"/></svg><svg style="position:absolute;left:210px;top:212px;overflow:visible" width="13" height="13" viewBox="0 0 13 13"><path d="M0,1.0 H8" stroke="#8a8a8a" stroke-width="1.2"/><path d="M9.5,1.0 H12" stroke="#3a8fd6" stroke-width="1.2"/><path d="M0,3.8 H8" stroke="#8a8a8a" stroke-width="1.2"/><path d="M9.5,3.8 H12" stroke="#3a8fd6" stroke-width="1.2"/><path d="M0,6.6 H8" stroke="#8a8a8a" stroke-width="1.2"/><path d="M9.5,6.6 H12" stroke="#3a8fd6" stroke-width="1.2"/><path d="M0,9.4 H8" stroke="#8a8a8a" stroke-width="1.2"/><path d="M9.5,9.4 H12" stroke="#3a8fd6" stroke-width="1.2"/><path d="M0,12.2 H8" stroke="#8a8a8a" stroke-width="1.2"/><path d="M9.5,12.2 H12" stroke="#3a8fd6" stroke-width="1.2"/></svg><svg style="position:absolute;left:229.5px;top:217.0px;overflow:visible" width="7" height="4" viewBox="0 0 7 4"><path d="M0,0 L7,0 L3.5,4 Z" fill="#222"/></svg><svg style="position:absolute;left:248px;top:211px;overflow:visible" width="18" height="16" viewBox="0 0 18 16"><rect x="5" y="0" width="10.5" height="5" fill="#3a8fd6"/><path d="M4,5 H16.5 L12.5,11 H8Z" fill="#8a8a8a"/><rect x="0" y="5" width="5" height="2" fill="#8a8a8a"/><rect x="9.3" y="11" width="2" height="4" fill="#3a8fd6"/></svg><svg style="position:absolute;left:269.5px;top:217.0px;overflow:visible" width="7" height="4" viewBox="0 0 7 4"><path d="M0,0 L7,0 L3.5,4 Z" fill="#222"/></svg><div style="position:absolute;left:10px;top:235px;width:517px;height:17px;background:#fff;border:1px solid #d5d5d8;box-sizing:border-box"></div><div style="position:absolute;left:13px;top:235.0px;line-height:18px;font-size:11.7px;color:#a9a9a9;white-space:nowrap;">Type filter text</div><svg style="position:absolute;left:539px;top:237px;overflow:visible" width="14" height="13" viewBox="0 0 14 13"><path d="M11,4 A5.5,5.5 0 1 0 12,9" fill="none" stroke="#3a8fd6" stroke-width="1.4"/><path d="M8,2 H13 V7Z" fill="#3a8fd6"/></svg><div style="position:absolute;left:10px;top:259px;width:547px;height:1094px;background:#fff;border:1px solid #d9d9dc;box-sizing:border-box"></div><div style="position:absolute;left:539px;top:260px;width:17px;height:1092px;background:#fdfdfd"></div><div style="position:absolute;left:539px;top:260px;width:17px;height:17px;background:#f6f6f6"></div><div style="position:absolute;left:539px;top:1335px;width:17px;height:17px;background:#f6f6f6"></div><div style="position:absolute;left:539px;top:277px;width:17px;height:976px;background:#e5e5e5"></div><svg style="position:absolute;left:543px;top:265px;overflow:visible" width="9" height="6" viewBox="0 0 9 6"><path d="M0.5,5 L4.5,1 L8.5,5" fill="none" stroke="#c8c8c8" stroke-width="1"/></svg><svg style="position:absolute;left:543px;top:1340px;overflow:visible" width="9" height="6" viewBox="0 0 9 6"><path d="M0.5,1 L4.5,5 L8.5,1" fill="none" stroke="#c8c8c8" stroke-width="1"/></svg><div style="position:absolute;left:11px;top:566px;width:528px;height:18px;background:#dcdce0"></div><div style="position:absolute;left:0;top:0;width:539px;height:1352px;overflow:hidden"><svg style="position:absolute;left:14px;top:263px;overflow:visible" width="12" height="12" viewBox="0 0 12 12"><path d="M2.4,4.2 L6,7.8 L9.6,4.2" fill="none" stroke="#222" stroke-width="1.3"/></svg><svg style="position:absolute;left:31px;top:261px;overflow:visible" width="16" height="16" viewBox="0 0 16 16"><path d="M8,1 L16,8 L8,15 L0,8Z" fill="#3a8fd6"/><path d="M0,8 L4,4.5 L8,8 L4,11.5Z" fill="#9cc8ee"/><path d="M4,4.5 L8,8 L4,11.5" fill="none" stroke="#fff" stroke-width="0.8"/></svg><div style="position:absolute;left:53px;top:260.0px;line-height:18px;font-size:11.8px;color:#111;white-space:nowrap;">eigenmodes_air_bubble_Harmonic.mph<i> (root)</i></div><svg style="position:absolute;left:34px;top:281px;overflow:visible" width="12" height="12" viewBox="0 0 12 12"><path d="M2.4,4.2 L6,7.8 L9.6,4.2" fill="none" stroke="#222" stroke-width="1.3"/></svg><svg style="position:absolute;left:51px;top:279px;overflow:visible" width="16" height="16" viewBox="0 0 16 16"><circle cx="8" cy="8" r="7" fill="none" stroke="#3a8fd6" stroke-width="1.1"/><ellipse cx="8" cy="8" rx="3" ry="7" fill="none" stroke="#3a8fd6" stroke-width="1"/><path d="M1,8 H15 M2,4.5 H14 M2,11.5 H14 M8,1 V15" stroke="#3a8fd6" stroke-width="0.9"/></svg><div style="position:absolute;left:73px;top:278.0px;line-height:18px;font-size:11.8px;color:#111;white-space:nowrap;">Global Definitions</div><svg style="position:absolute;left:71px;top:297px;overflow:visible" width="16" height="16" viewBox="0 0 16 16"><path d="M3,12.5 V4.5 H6 C9.8,4.5 9.8,9.3 6,9.3 H3" fill="none" stroke="#3a8fd6" stroke-width="1.1"/><path d="M12,8 V15" stroke="#3a8fd6" stroke-width="1.1"/><circle cx="12" cy="6" r="0.65" fill="#3a8fd6"/></svg><div style="position:absolute;left:93px;top:296.0px;line-height:18px;font-size:11.8px;color:#111;white-space:nowrap;">Parameters 1</div><svg style="position:absolute;left:71px;top:315px;overflow:visible" width="16" height="16" viewBox="0 0 16 16"><path d="M7,4 L14,9.5 L7,15 L0,9.5Z" fill="#3a8fd6"/><path d="M0,9.5 L3.5,6.8 L7,9.5 L3.5,12.2Z" fill="#9cc8ee"/><path d="M11,0 L15,3 L11,6Z" fill="#1f9bb6"/></svg><div style="position:absolute;left:93px;top:314.0px;line-height:18px;font-size:11.8px;color:#111;white-space:nowrap;">Default Model Inputs</div><svg style="position:absolute;left:71px;top:333px;overflow:visible" width="16" height="16" viewBox="0 0 16 16"><circle cx="8" cy="8" r="7" fill="#fff" stroke="#f0a13a" stroke-width="1.2"/><g fill="#f0a13a"><rect x="6" y="3.5" width="3" height="3"/><rect x="3.5" y="7" width="3" height="3"/><rect x="9.5" y="7" width="3" height="3"/><rect x="6" y="10" width="3" height="2.5"/></g></svg><div style="position:absolute;left:93px;top:332.0px;line-height:18px;font-size:11.8px;color:#111;white-space:nowrap;">Materials</div><svg style="position:absolute;left:34px;top:353px;overflow:visible" width="12" height="12" viewBox="0 0 12 12"><path d="M2.4,4.2 L6,7.8 L9.6,4.2" fill="none" stroke="#222" stroke-width="1.3"/></svg><svg style="position:absolute;left:51px;top:351px;overflow:visible" width="16" height="16" viewBox="0 0 16 16"><path d="M0,10 C1,3 15,3 16,10 L12,10 C11,7 5,7 4,10Z" fill="#ddd" stroke="#999" stroke-width="0.8"/><rect x="10" y="9" width="6" height="3" fill="#3a8fd6"/><path d="M8,0 V16" stroke="#777" stroke-width="0.8" stroke-dasharray="2,1"/></svg><div style="position:absolute;left:73px;top:350.0px;line-height:18px;font-size:11.8px;color:#111;white-space:nowrap;">Component 1<i> (comp1)</i></div><svg style="position:absolute;left:54px;top:371px;overflow:visible" width="12" height="12" viewBox="0 0 12 12"><path d="M4.2,2.4 L7.8,6 L4.2,9.6" fill="none" stroke="#444" stroke-width="1.2"/></svg><svg style="position:absolute;left:71px;top:369px;overflow:visible" width="16" height="16" viewBox="0 0 16 16"><path d="M2,4 H13 M2,8 H13 M2,12 H13" stroke="#3a8fd6" stroke-width="2"/></svg><div style="position:absolute;left:93px;top:368.0px;line-height:18px;font-size:11.8px;color:#111;white-space:nowrap;">Definitions</div><svg style="position:absolute;left:54px;top:389px;overflow:visible" width="12" height="12" viewBox="0 0 12 12"><path d="M2.4,4.2 L6,7.8 L9.6,4.2" fill="none" stroke="#222" stroke-width="1.3"/></svg><svg style="position:absolute;left:71px;top:387px;overflow:visible" width="16" height="16" viewBox="0 0 16 16"><rect x="0.5" y="0.5" width="15" height="15" fill="#fff" stroke="#3aa655" stroke-width="1"/><path d="M1,11 Q5,1 8,3 L14,13 M2,5 Q8,5 15,9" fill="none" stroke="#e0522d" stroke-width="1"/></svg><div style="position:absolute;left:93px;top:386.0px;line-height:18px;font-size:11.8px;color:#111;white-space:nowrap;">Geometry 1</div><svg style="position:absolute;left:91px;top:405px;overflow:visible" width="16" height="16" viewBox="0 0 16 16"><circle cx="8" cy="8" r="6" fill="#e4e4e4" stroke="#e0522d" stroke-width="1.3"/><rect x="6.6" y="6.6" width="2.8" height="2.8" fill="#e0522d"/></svg><div style="position:absolute;left:113px;top:404.0px;line-height:18px;font-size:11.8px;color:#111;white-space:nowrap;">Circle 1<i> (c1)</i></div><svg style="position:absolute;left:91px;top:423px;overflow:visible" width="16" height="16" viewBox="0 0 16 16"><circle cx="8" cy="8" r="6" fill="#e4e4e4" stroke="#e0522d" stroke-width="1.3"/><rect x="6.6" y="6.6" width="2.8" height="2.8" fill="#e0522d"/></svg><div style="position:absolute;left:113px;top:422.0px;line-height:18px;font-size:11.8px;color:#111;white-space:nowrap;">Circle 2<i> (c2)</i></div><svg style="position:absolute;left:91px;top:441px;overflow:visible" width="16" height="16" viewBox="0 0 16 16"><rect x="1.5" y="3.5" width="13" height="9" fill="#eee" stroke="#888" stroke-width="1"/><rect x="0" y="11" width="3" height="3" fill="#777"/></svg><div style="position:absolute;left:113px;top:440.0px;line-height:18px;font-size:11.8px;color:#8a8a8a;white-space:nowrap;">Rectangle 1<i> (r1)</i></div><svg style="position:absolute;left:74px;top:461px;overflow:visible" width="12" height="12" viewBox="0 0 12 12"><path d="M4.2,2.4 L7.8,6 L4.2,9.6" fill="none" stroke="#444" stroke-width="1.2"/></svg><svg style="position:absolute;left:91px;top:459px;overflow:visible" width="16" height="16" viewBox="0 0 16 16"><rect x="0.5" y="0.5" width="15" height="15" fill="#f6b8a4" stroke="#3aa655" stroke-width="1"/><path d="M1,8 H8 V1" fill="none" stroke="#e0522d" stroke-width="1"/><path d="M8,15 L11,9 L14,15Z" fill="#e0522d"/></svg><div style="position:absolute;left:113px;top:458.0px;line-height:18px;font-size:11.8px;color:#111;white-space:nowrap;">Form Union<i> (fin)</i></div><svg style="position:absolute;left:54px;top:479px;overflow:visible" width="12" height="12" viewBox="0 0 12 12"><path d="M2.4,4.2 L6,7.8 L9.6,4.2" fill="none" stroke="#222" stroke-width="1.3"/></svg><svg style="position:absolute;left:71px;top:477px;overflow:visible" width="16" height="16" viewBox="0 0 16 16"><g fill="#f0a13a"><rect x="4" y="0" width="4" height="4"/><rect x="0" y="5" width="4" height="4"/><rect x="5" y="5" width="4" height="4"/><rect x="11" y="5" width="4" height="4"/><rect x="0" y="11" width="4" height="4"/><rect x="11" y="11" width="4" height="4"/></g><rect x="5" y="11" width="4" height="4" fill="#d2781c"/></svg><div style="position:absolute;left:93px;top:476.0px;line-height:18px;font-size:11.8px;color:#111;white-space:nowrap;">Materials</div><svg style="position:absolute;left:74px;top:497px;overflow:visible" width="12" height="12" viewBox="0 0 12 12"><path d="M4.2,2.4 L7.8,6 L4.2,9.6" fill="none" stroke="#444" stroke-width="1.2"/></svg><svg style="position:absolute;left:91px;top:495px;overflow:visible" width="16" height="16" viewBox="0 0 16 16"><g fill="#f0a13a"><rect x="4" y="0" width="4" height="4"/><rect x="0" y="5" width="4" height="4"/><rect x="5" y="5" width="4" height="4"/><rect x="0" y="10" width="4" height="4"/></g><rect x="6" y="8" width="10" height="8" rx="2" fill="#777"/></svg><div style="position:absolute;left:113px;top:494.0px;line-height:18px;font-size:11.8px;color:#111;white-space:nowrap;">Water, liquid<i> (mat1)</i></div><svg style="position:absolute;left:74px;top:515px;overflow:visible" width="12" height="12" viewBox="0 0 12 12"><path d="M4.2,2.4 L7.8,6 L4.2,9.6" fill="none" stroke="#444" stroke-width="1.2"/></svg><svg style="position:absolute;left:91px;top:513px;overflow:visible" width="16" height="16" viewBox="0 0 16 16"><g fill="#f0a13a"><rect x="4" y="0" width="4" height="4"/><rect x="0" y="5" width="4" height="4"/><rect x="5" y="5" width="4" height="4"/><rect x="0" y="10" width="4" height="4"/></g><rect x="6" y="8" width="10" height="8" rx="2" fill="#777"/></svg><div style="position:absolute;left:113px;top:512.0px;line-height:18px;font-size:11.8px;color:#111;white-space:nowrap;">Air<i> (mat2)</i></div><svg style="position:absolute;left:54px;top:533px;overflow:visible" width="12" height="12" viewBox="0 0 12 12"><path d="M4.2,2.4 L7.8,6 L4.2,9.6" fill="none" stroke="#444" stroke-width="1.2"/></svg><svg style="position:absolute;left:71px;top:531px;overflow:visible" width="16" height="16" viewBox="0 0 16 16"><path d="M2,6 A5,5 0 0 1 2,14 M5,4 A7,7 0 0 1 5,16 M8,3 A8,8 0 0 1 8,17 M11,5 A7,7 0 0 1 11,16" fill="none" stroke="#f0a13a" stroke-width="1"/><path d="M12.5,0 V6 M9.5,3 H15.5 M10.4,0.9000000000000004 L14.6,5.1 M10.4,5.1 L14.6,0.9000000000000004" stroke="#5a5a5a" stroke-width="1.1"/></svg><div style="position:absolute;left:93px;top:530.0px;line-height:18px;font-size:11.8px;color:#111;white-space:nowrap;">Thermoviscous Acoustics, Frequency Domain<i> (ta)</i></div><svg style="position:absolute;left:54px;top:551px;overflow:visible" width="12" height="12" viewBox="0 0 12 12"><path d="M4.2,2.4 L7.8,6 L4.2,9.6" fill="none" stroke="#444" stroke-width="1.2"/></svg><svg style="position:absolute;left:71px;top:549px;overflow:visible" width="16" height="16" viewBox="0 0 16 16"><circle cx="8" cy="9" r="7.5" fill="none" stroke="#3a8fd6" stroke-width="1.1"/><path d="M5,5 A5,5 0 0 1 5,13 M8,4 A6,6 0 0 1 8,14 M11,4 A6,6 0 0 1 11,14" fill="none" stroke="#3a8fd6" stroke-width="0.9"/><circle cx="12.5" cy="3" r="3.3" fill="#fff"/><path d="M12.5,0 V6 M9.5,3 H15.5 M10.4,0.9000000000000004 L14.6,5.1 M10.4,5.1 L14.6,0.9000000000000004" stroke="#5a5a5a" stroke-width="1.1"/></svg><div style="position:absolute;left:93px;top:548.0px;line-height:18px;font-size:11.8px;color:#111;white-space:nowrap;">Pressure Acoustics, Frequency Domain<i> (acpr)</i></div><svg style="position:absolute;left:54px;top:569px;overflow:visible" width="12" height="12" viewBox="0 0 12 12"><path d="M4.2,2.4 L7.8,6 L4.2,9.6" fill="none" stroke="#444" stroke-width="1.2"/></svg><svg style="position:absolute;left:71px;top:567px;overflow:visible" width="16" height="16" viewBox="0 0 16 16"><circle cx="8" cy="8" r="7.5" fill="none" stroke="#3a8fd6" stroke-width="1.1"/><path d="M6,4.5 A4.5,4.5 0 0 1 6,11.5 M8.5,3.5 A5.5,5.5 0 0 1 8.5,12.5 M11,3.5 A5.5,5.5 0 0 1 11,12.5" fill="none" stroke="#3a8fd6" stroke-width="0.9"/><path d="M1.5,8 Q2.5,5 3.5,8 T5.5,8" fill="none" stroke="#3a8fd6" stroke-width="0.8"/></svg><div style="position:absolute;left:93px;top:566.0px;line-height:18px;font-size:11.8px;color:#111;white-space:nowrap;">Pressure Acoustics, Transient<i> (actd)</i></div><svg style="position:absolute;left:54px;top:587px;overflow:visible" width="12" height="12" viewBox="0 0 12 12"><path d="M2.4,4.2 L6,7.8 L9.6,4.2" fill="none" stroke="#222" stroke-width="1.3"/></svg><svg style="position:absolute;left:71px;top:585px;overflow:visible" width="16" height="16" viewBox="0 0 16 16"><path d="M1,10 Q2,7 3,10 T5,10 M6,6 A5,5 0 0 1 6,14 M9,4 A7,7 0 0 1 9,16 M12,4 A7,7 0 0 1 12,16" fill="none" stroke="#f0a13a" stroke-width="1"/><path d="M12.5,0 V6 M9.5,3 H15.5 M10.4,0.9000000000000004 L14.6,5.1 M10.4,5.1 L14.6,0.9000000000000004" stroke="#5a5a5a" stroke-width="1.1"/></svg><div style="position:absolute;left:93px;top:584.0px;line-height:18px;font-size:11.8px;color:#111;white-space:nowrap;">Thermoviscous Acoustics, Transient<i> (tatd)</i></div><svg style="position:absolute;left:91px;top:603px;overflow:visible" width="16" height="16" viewBox="0 0 16 16"><rect x="0" y="2" width="16" height="11" rx="3.5" fill="#3a8fd6"/><rect x="-0.5" y="-1" width="6.5" height="7" fill="#fff"/><text x="0" y="6" font-size="8.5" font-weight="bold" fill="#222" font-family="Liberation Sans">D</text></svg><div style="position:absolute;left:113px;top:602.0px;line-height:18px;font-size:11.8px;color:#111;white-space:nowrap;">Thermoviscous Acoustics Model 1</div><svg style="position:absolute;left:91px;top:621px;overflow:visible" width="16" height="16" viewBox="0 0 16 16"><rect x="0.5" y="2.5" width="15" height="10" rx="3.5" fill="#e4e4e4" stroke="#3a8fd6" stroke-width="1"/><path d="M1,8 H15" stroke="#3a8fd6" stroke-width="1"/><rect x="-0.5" y="-1" width="6.5" height="7" fill="#fff"/><text x="0" y="6" font-size="8.5" font-weight="bold" fill="#222" font-family="Liberation Sans">D</text></svg><div style="position:absolute;left:113px;top:620.0px;line-height:18px;font-size:11.8px;color:#111;white-space:nowrap;">Axial Symmetry 1</div><svg style="position:absolute;left:91px;top:639px;overflow:visible" width="16" height="16" viewBox="0 0 16 16"><rect x="0.5" y="2.5" width="15" height="10" rx="3.5" fill="#e4e4e4" stroke="#3a8fd6" stroke-width="1"/><path d="M1,8 H15" stroke="#3a8fd6" stroke-width="1"/><rect x="-0.5" y="-1" width="6.5" height="7" fill="#fff"/><text x="0" y="6" font-size="8.5" font-weight="bold" fill="#222" font-family="Liberation Sans">D</text></svg><div style="position:absolute;left:113px;top:638.0px;line-height:18px;font-size:11.8px;color:#111;white-space:nowrap;">Wall 1</div><svg style="position:absolute;left:91px;top:657px;overflow:visible" width="16" height="16" viewBox="0 0 16 16"><rect x="0" y="2" width="16" height="11" rx="3.5" fill="#3a8fd6"/><rect x="-0.5" y="-1" width="6.5" height="7" fill="#fff"/><text x="0" y="6" font-size="8.5" font-weight="bold" fill="#222" font-family="Liberation Sans">D</text></svg><div style="position:absolute;left:113px;top:656.0px;line-height:18px;font-size:11.8px;color:#111;white-space:nowrap;">Initial Values 1</div><svg style="position:absolute;left:91px;top:675px;overflow:visible" width="16" height="16" viewBox="0 0 16 16"><rect x="0" y="2" width="16" height="11" rx="3.5" fill="#3a8fd6"/></svg><div style="position:absolute;left:113px;top:674.0px;line-height:18px;font-size:11.8px;color:#111;white-space:nowrap;">Thermoviscous Acoustics Model 2</div><svg style="position:absolute;left:54px;top:695px;overflow:visible" width="12" height="12" viewBox="0 0 12 12"><path d="M2.4,4.2 L6,7.8 L9.6,4.2" fill="none" stroke="#222" stroke-width="1.3"/></svg><svg style="position:absolute;left:71px;top:693px;overflow:visible" width="16" height="16" viewBox="0 0 16 16"><circle cx="8" cy="3" r="2.2" fill="none" stroke="#999" stroke-width="0.9"/><path d="M8,5 V8 M2,8 H14 M2,8 V11 M8,8 V11 M14,8 V11 M0,14 H16" stroke="#555" stroke-width="1"/><rect x="0" y="10" width="3" height="3" fill="#3a8fd6"/><rect x="6" y="10" width="3" height="3" fill="#3aa655"/><rect x="12" y="10" width="3" height="3" fill="#d6338b"/></svg><div style="position:absolute;left:93px;top:692.0px;line-height:18px;font-size:11.8px;color:#111;white-space:nowrap;">Multiphysics</div><svg style="position:absolute;left:91px;top:711px;overflow:visible" width="16" height="16" viewBox="0 0 16 16"><path d="M1,7 A4,4 0 0 1 1,15 M3.5,6 A6,6 0 0 1 3.5,16 M6,5 A7,7 0 0 1 6,17" fill="none" stroke="#3a8fd6" stroke-width="1"/><path d="M9,3 A4,4 0 0 1 9,11 M11.5,2 A6,6 0 0 1 11.5,12" fill="none" stroke="#f0a13a" stroke-width="1"/><path d="M12.5,0 V6 M9.5,3 H15.5 M10.4,0.9000000000000004 L14.6,5.1 M10.4,5.1 L14.6,0.9000000000000004" stroke="#5a5a5a" stroke-width="1.1"/></svg><div style="position:absolute;left:113px;top:710.0px;line-height:18px;font-size:11.8px;color:#111;white-space:nowrap;">Acoustic–Thermoviscous Acoustic Boundary 1<i> (atb1)</i></div><svg style="position:absolute;left:91px;top:729px;overflow:visible" width="16" height="16" viewBox="0 0 16 16"><path d="M1,7 A4,4 0 0 1 1,15 M3.5,6 A6,6 0 0 1 3.5,16 M6,5 A7,7 0 0 1 6,17" fill="none" stroke="#3a8fd6" stroke-width="1"/><path d="M9,2 A4,4 0 0 1 9,10 M11.5,1 A6,6 0 0 1 11.5,11 M14,0 A7,7 0 0 1 14,12" fill="none" stroke="#f0a13a" stroke-width="1"/></svg><div style="position:absolute;left:113px;top:728.0px;line-height:18px;font-size:11.8px;color:#111;white-space:nowrap;">Acoustic–Thermoviscous Acoustic Boundary 2<i> (atb2)</i></div><svg style="position:absolute;left:54px;top:749px;overflow:visible" width="12" height="12" viewBox="0 0 12 12"><path d="M2.4,4.2 L6,7.8 L9.6,4.2" fill="none" stroke="#222" stroke-width="1.3"/></svg><svg style="position:absolute;left:71px;top:747px;overflow:visible" width="16" height="16" viewBox="0 0 16 16"><path d="M8,1 L15.5,15 H0.5Z" fill="#e6e6e6" stroke="#888" stroke-width="1"/><path d="M4.2,8 H11.8 M2.3,11.5 H13.7 M6,4.5 L10,11.5 M10,4.5 L6,11.5 M4.2,8 L8,15 M11.8,8 L8,15" stroke="#888" stroke-width="0.6"/></svg><div style="position:absolute;left:93px;top:746.0px;line-height:18px;font-size:11.8px;color:#111;white-space:nowrap;">Mesh 1</div><svg style="position:absolute;left:91px;top:765px;overflow:visible" width="16" height="16" viewBox="0 0 16 16"><path d="M6,3 L12,14 H0Z" fill="#eee" stroke="#888" stroke-width="1"/><path d="M14,0 V10" stroke="#888" stroke-width="2" stroke-dasharray="2,1"/><path d="M15,11 V16 H10Z" fill="#e0522d"/><path d="M0,15.5 H9" stroke="#888" stroke-width="1" stroke-dasharray="2,1"/></svg><div style="position:absolute;left:113px;top:764.0px;line-height:18px;font-size:11.8px;color:#111;white-space:nowrap;">Size</div><svg style="position:absolute;left:74px;top:785px;overflow:visible" width="12" height="12" viewBox="0 0 12 12"><path d="M4.2,2.4 L7.8,6 L4.2,9.6" fill="none" stroke="#444" stroke-width="1.2"/></svg><svg style="position:absolute;left:91px;top:783px;overflow:visible" width="16" height="16" viewBox="0 0 16 16"><rect x="0.5" y="0.5" width="15" height="15" fill="#fff" stroke="#e0522d" stroke-width="1"/><path d="M2,13 L8,3 L14,13Z M5,8 H11 M8,3 L5,13 M8,3 L11,13" fill="#ddd" stroke="#888" stroke-width="0.7"/><circle cx="12" cy="4" r="1.8" fill="#777"/></svg><div style="position:absolute;left:113px;top:782.0px;line-height:18px;font-size:11.8px;color:#111;white-space:nowrap;">Free Triangular 1</div><svg style="position:absolute;left:34px;top:803px;overflow:visible" width="12" height="12" viewBox="0 0 12 12"><path d="M4.2,2.4 L7.8,6 L4.2,9.6" fill="none" stroke="#444" stroke-width="1.2"/></svg><svg style="position:absolute;left:51px;top:801px;overflow:visible" width="16" height="16" viewBox="0 0 16 16"><path d="M0.5,8 Q2.5,4.5 4.5,7" fill="none" stroke="#1f9bb6" stroke-width="1.1"/><circle cx="8" cy="9" r="3" fill="none" stroke="#1f9bb6" stroke-width="1.1"/><circle cx="13.5" cy="9" r="3" fill="none" stroke="#1f9bb6" stroke-width="1.1"/></svg><div style="position:absolute;left:73px;top:800.0px;line-height:18px;font-size:11.8px;color:#111;white-space:nowrap;">Study 1</div><svg style="position:absolute;left:34px;top:821px;overflow:visible" width="12" height="12" viewBox="0 0 12 12"><path d="M4.2,2.4 L7.8,6 L4.2,9.6" fill="none" stroke="#444" stroke-width="1.2"/></svg><svg style="position:absolute;left:51px;top:819px;overflow:visible" width="16" height="16" viewBox="0 0 16 16"><path d="M0.5,8 Q2.5,4.5 4.5,7" fill="none" stroke="#1f9bb6" stroke-width="1.1"/><circle cx="8" cy="9" r="3" fill="none" stroke="#1f9bb6" stroke-width="1.1"/><circle cx="13.5" cy="9" r="3" fill="none" stroke="#1f9bb6" stroke-width="1.1"/></svg><div style="position:absolute;left:73px;top:818.0px;line-height:18px;font-size:11.8px;color:#111;white-space:nowrap;">Study 2</div><svg style="position:absolute;left:34px;top:839px;overflow:visible" width="12" height="12" viewBox="0 0 12 12"><path d="M2.4,4.2 L6,7.8 L9.6,4.2" fill="none" stroke="#222" stroke-width="1.3"/></svg><svg style="position:absolute;left:51px;top:837px;overflow:visible" width="16" height="16" viewBox="0 0 16 16"><path d="M0.5,8 Q2.5,4.5 4.5,7" fill="none" stroke="#1f9bb6" stroke-width="1.1"/><circle cx="8" cy="9" r="3" fill="none" stroke="#1f9bb6" stroke-width="1.1"/><circle cx="13.5" cy="9" r="3" fill="none" stroke="#1f9bb6" stroke-width="1.1"/></svg><div style="position:absolute;left:73px;top:836.0px;line-height:18px;font-size:11.8px;color:#111;white-space:nowrap;">Study 3</div><svg style="position:absolute;left:71px;top:855px;overflow:visible" width="16" height="16" viewBox="0 0 16 16"><path d="M1,0 V15 H16" fill="none" stroke="#555" stroke-width="1"/><path d="M2,13 Q5,0 7,5 Q9,11 15,12" fill="none" stroke="#3a8fd6" stroke-width="1"/></svg><div style="position:absolute;left:93px;top:854.0px;line-height:18px;font-size:11.8px;color:#111;white-space:nowrap;">Step 1: Time Dependent</div><svg style="position:absolute;left:54px;top:875px;overflow:visible" width="12" height="12" viewBox="0 0 12 12"><path d="M4.2,2.4 L7.8,6 L4.2,9.6" fill="none" stroke="#444" stroke-width="1.2"/></svg><svg style="position:absolute;left:71px;top:873px;overflow:visible" width="16" height="16" viewBox="0 0 16 16"><path d="M1,2 V16 M6,5 V16 M11,8 V16" stroke="#555" stroke-width="1"/><rect x="0" y="0" width="4" height="3" fill="#1f9bb6"/><rect x="5" y="4" width="4" height="3" fill="#1f9bb6"/><rect x="10" y="7" width="5" height="3" fill="#1f9bb6"/><rect x="13" y="12" width="3" height="3" fill="#1f9bb6"/></svg><div style="position:absolute;left:93px;top:872.0px;line-height:18px;font-size:11.8px;color:#111;white-space:nowrap;">Solver Configurations</div><svg style="position:absolute;left:34px;top:893px;overflow:visible" width="12" height="12" viewBox="0 0 12 12"><path d="M2.4,4.2 L6,7.8 L9.6,4.2" fill="none" stroke="#222" stroke-width="1.3"/></svg><svg style="position:absolute;left:51px;top:891px;overflow:visible" width="16" height="16" viewBox="0 0 16 16"><rect x="0.5" y="5" width="12" height="10" fill="#fff" stroke="#777" stroke-width="0.9"/><rect x="2" y="2" width="12" height="10" fill="#fff" stroke="#777" stroke-width="0.9"/><rect x="4" y="0.5" width="12" height="11" fill="#fff" stroke="#777" stroke-width="0.9"/><rect x="6" y="3" width="8" height="6" fill="#b950a8"/></svg><div style="position:absolute;left:73px;top:890.0px;line-height:18px;font-size:11.8px;color:#111;white-space:nowrap;">Results</div><svg style="position:absolute;left:54px;top:911px;overflow:visible" width="12" height="12" viewBox="0 0 12 12"><path d="M4.2,2.4 L7.8,6 L4.2,9.6" fill="none" stroke="#444" stroke-width="1.2"/></svg><svg style="position:absolute;left:71px;top:909px;overflow:visible" width="16" height="16" viewBox="0 0 16 16"><rect x="1" y="1" width="1.2" height="1.2" fill="#b950a8"/><rect x="1" y="4" width="1.2" height="1.2" fill="#b950a8"/><rect x="1" y="7" width="1.2" height="1.2" fill="#b950a8"/><rect x="1" y="10" width="1.2" height="1.2" fill="#b950a8"/><rect x="1" y="13" width="1.2" height="1.2" fill="#b950a8"/><rect x="4" y="1" width="1.2" height="1.2" fill="#b950a8"/><rect x="4" y="4" width="1.2" height="1.2" fill="#b950a8"/><rect x="4" y="7" width="1.2" height="1.2" fill="#b950a8"/><rect x="4" y="10" width="1.2" height="1.2" fill="#b950a8"/><rect x="4" y="13" width="1.2" height="1.2" fill="#b950a8"/><rect x="7" y="1" width="1.2" height="1.2" fill="#b950a8"/><rect x="7" y="4" width="1.2" height="1.2" fill="#b950a8"/><rect x="7" y="7" width="1.2" height="1.2" fill="#b950a8"/><rect x="7" y="10" width="1.2" height="1.2" fill="#b950a8"/><rect x="7" y="13" width="1.2" height="1.2" fill="#b950a8"/><rect x="10" y="1" width="1.2" height="1.2" fill="#b950a8"/><rect x="10" y="4" width="1.2" height="1.2" fill="#b950a8"/><rect x="10" y="7" width="1.2" height="1.2" fill="#b950a8"/><rect x="10" y="10" width="1.2" height="1.2" fill="#b950a8"/><rect x="10" y="13" width="1.2" height="1.2" fill="#b950a8"/><rect x="13" y="1" width="1.2" height="1.2" fill="#b950a8"/><rect x="13" y="4" width="1.2" height="1.2" fill="#b950a8"/><rect x="13" y="7" width="1.2" height="1.2" fill="#b950a8"/><rect x="13" y="10" width="1.2" height="1.2" fill="#b950a8"/><rect x="13" y="13" width="1.2" height="1.2" fill="#b950a8"/></svg><div style="position:absolute;left:93px;top:908.0px;line-height:18px;font-size:11.8px;color:#111;white-space:nowrap;">Datasets</div><svg style="position:absolute;left:54px;top:929px;overflow:visible" width="12" height="12" viewBox="0 0 12 12"><path d="M4.2,2.4 L7.8,6 L4.2,9.6" fill="none" stroke="#444" stroke-width="1.2"/></svg><svg style="position:absolute;left:71px;top:927px;overflow:visible" width="16" height="16" viewBox="0 0 16 16"><path d="M8,0 V12 M8,12 L1,14 M8,12 L15,9" stroke="#555" stroke-width="1"/><path d="M6.5,2 L8,0 L9.5,2" fill="none" stroke="#2f86d1" stroke-width="1"/><path d="M3,12 L1,14 L3,15" fill="none" stroke="#3aa655" stroke-width="1"/><path d="M13,8 L15,9 L14,11" fill="none" stroke="#d6338b" stroke-width="1"/><path d="M8,12 L15,9" stroke="#d6338b" stroke-width="1"/><path d="M8,12 L1,14" stroke="#3aa655" stroke-width="1"/><path d="M8,0 V12" stroke="#2f86d1" stroke-width="1"/></svg><div style="position:absolute;left:93px;top:926.0px;line-height:18px;font-size:11.8px;color:#111;white-space:nowrap;">Views</div><svg style="position:absolute;left:54px;top:947px;overflow:visible" width="12" height="12" viewBox="0 0 12 12"><path d="M4.2,2.4 L7.8,6 L4.2,9.6" fill="none" stroke="#444" stroke-width="1.2"/></svg><svg style="position:absolute;left:71px;top:945px;overflow:visible" width="16" height="16" viewBox="0 0 16 16"><text x="0" y="7" font-size="8" fill="#b950a8" font-family="Liberation Sans" textLength="16" lengthAdjust="spacingAndGlyphs">8.85</text><text x="0" y="15" font-size="8" fill="#b950a8" font-family="Liberation Sans" textLength="16" lengthAdjust="spacingAndGlyphs">e-12</text></svg><div style="position:absolute;left:93px;top:944.0px;line-height:18px;font-size:11.8px;color:#111;white-space:nowrap;">Derived Values</div><svg style="position:absolute;left:54px;top:965px;overflow:visible" width="12" height="12" viewBox="0 0 12 12"><path d="M4.2,2.4 L7.8,6 L4.2,9.6" fill="none" stroke="#444" stroke-width="1.2"/></svg><svg style="position:absolute;left:71px;top:963px;overflow:visible" width="16" height="16" viewBox="0 0 16 16"><rect x="0.5" y="0.5" width="13" height="14" fill="none" stroke="#b950a8" stroke-width="1"/><path d="M0.5,4 H13.5 M0.5,7.5 H13.5 M0.5,11 H13.5 M4.5,0.5 V14.5 M9,0.5 V14.5" stroke="#b950a8" stroke-width="0.8"/></svg><div style="position:absolute;left:93px;top:962.0px;line-height:18px;font-size:11.8px;color:#111;white-space:nowrap;">Tables</div><svg style="position:absolute;left:54px;top:983px;overflow:visible" width="12" height="12" viewBox="0 0 12 12"><path d="M4.2,2.4 L7.8,6 L4.2,9.6" fill="none" stroke="#444" stroke-width="1.2"/></svg><svg style="position:absolute;left:71px;top:981px;overflow:visible" width="16" height="16" viewBox="0 0 16 16"><rect x="0" y="0" width="14" height="15" fill="#b950a8"/><circle cx="12.5" cy="2.5" r="4" fill="#fff"/><path d="M12.5,-0.5 V5.5 M9.5,2.5 H15.5 M10.4,0.40000000000000036 L14.6,4.6 M10.4,4.6 L14.6,0.40000000000000036" stroke="#5a5a5a" stroke-width="1.1"/></svg><div style="position:absolute;left:93px;top:980.0px;line-height:18px;font-size:11.8px;color:#111;white-space:nowrap;">Acoustic Pressure (atb1)</div><svg style="position:absolute;left:54px;top:1001px;overflow:visible" width="12" height="12" viewBox="0 0 12 12"><path d="M4.2,2.4 L7.8,6 L4.2,9.6" fill="none" stroke="#444" stroke-width="1.2"/></svg><svg style="position:absolute;left:71px;top:999px;overflow:visible" width="16" height="16" viewBox="0 0 16 16"><path d="M0,3 L3,0 H15 V15 H3 L0,12Z" fill="#b950a8"/><path d="M0.3,2.3 L4,5 H15 M4,5 V15" fill="none" stroke="#fff" stroke-width="0.9"/><circle cx="12.5" cy="2.5" r="4" fill="#fff"/><path d="M12.5,-0.5 V5.5 M9.5,2.5 H15.5 M10.4,0.40000000000000036 L14.6,4.6 M10.4,4.6 L14.6,0.40000000000000036" stroke="#5a5a5a" stroke-width="1.1"/></svg><div style="position:absolute;left:93px;top:998.0px;line-height:18px;font-size:11.8px;color:#111;white-space:nowrap;">Bubble Displacement</div><svg style="position:absolute;left:54px;top:1019px;overflow:visible" width="12" height="12" viewBox="0 0 12 12"><path d="M4.2,2.4 L7.8,6 L4.2,9.6" fill="none" stroke="#444" stroke-width="1.2"/></svg><svg style="position:absolute;left:71px;top:1017px;overflow:visible" width="16" height="16" viewBox="0 0 16 16"><path d="M0,3 L3,0 H15 V15 H3 L0,12Z" fill="#b950a8"/><path d="M0.3,2.3 L4,5 H15 M4,5 V15" fill="none" stroke="#fff" stroke-width="0.9"/></svg><div style="position:absolute;left:93px;top:1016.0px;line-height:18px;font-size:11.8px;color:#111;white-space:nowrap;">Bubble Displacement Array</div><svg style="position:absolute;left:54px;top:1037px;overflow:visible" width="12" height="12" viewBox="0 0 12 12"><path d="M4.2,2.4 L7.8,6 L4.2,9.6" fill="none" stroke="#444" stroke-width="1.2"/></svg><svg style="position:absolute;left:71px;top:1035px;overflow:visible" width="16" height="16" viewBox="0 0 16 16"><path d="M0,10 Q4,3 8,9 T16,8" fill="none" stroke="#b950a8" stroke-width="1.2"/></svg><div style="position:absolute;left:93px;top:1034.0px;line-height:18px;font-size:11.8px;color:#111;white-space:nowrap;">Bubble Resonances</div><svg style="position:absolute;left:54px;top:1055px;overflow:visible" width="12" height="12" viewBox="0 0 12 12"><path d="M4.2,2.4 L7.8,6 L4.2,9.6" fill="none" stroke="#444" stroke-width="1.2"/></svg><svg style="position:absolute;left:71px;top:1053px;overflow:visible" width="16" height="16" viewBox="0 0 16 16"><rect x="0" y="0" width="14" height="15" fill="#b950a8"/><circle cx="12.5" cy="2.5" r="4" fill="#fff"/><path d="M12.5,-0.5 V5.5 M9.5,2.5 H15.5 M10.4,0.40000000000000036 L14.6,4.6 M10.4,4.6 L14.6,0.40000000000000036" stroke="#5a5a5a" stroke-width="1.1"/></svg><div style="position:absolute;left:93px;top:1052.0px;line-height:18px;font-size:11.8px;color:#111;white-space:nowrap;">Acoustic Pressure (ta)</div><svg style="position:absolute;left:54px;top:1073px;overflow:visible" width="12" height="12" viewBox="0 0 12 12"><path d="M4.2,2.4 L7.8,6 L4.2,9.6" fill="none" stroke="#444" stroke-width="1.2"/></svg><svg style="position:absolute;left:71px;top:1071px;overflow:visible" width="16" height="16" viewBox="0 0 16 16"><rect x="0" y="0" width="14" height="15" fill="#b950a8"/><circle cx="12.5" cy="2.5" r="4" fill="#fff"/><path d="M12.5,-0.5 V5.5 M9.5,2.5 H15.5 M10.4,0.40000000000000036 L14.6,4.6 M10.4,4.6 L14.6,0.40000000000000036" stroke="#5a5a5a" stroke-width="1.1"/></svg><div style="position:absolute;left:93px;top:1070.0px;line-height:18px;font-size:11.8px;color:#111;white-space:nowrap;">Acoustic Velocity (ta)</div><svg style="position:absolute;left:54px;top:1091px;overflow:visible" width="12" height="12" viewBox="0 0 12 12"><path d="M4.2,2.4 L7.8,6 L4.2,9.6" fill="none" stroke="#444" stroke-width="1.2"/></svg><svg style="position:absolute;left:71px;top:1089px;overflow:visible" width="16" height="16" viewBox="0 0 16 16"><path d="M0,3 L3,0 H15 V15 H3 L0,12Z" fill="#b950a8"/><path d="M0.3,2.3 L4,5 H15 M4,5 V15" fill="none" stroke="#fff" stroke-width="0.9"/><circle cx="12.5" cy="2.5" r="4" fill="#fff"/><path d="M12.5,-0.5 V5.5 M9.5,2.5 H15.5 M10.4,0.40000000000000036 L14.6,4.6 M10.4,4.6 L14.6,0.40000000000000036" stroke="#5a5a5a" stroke-width="1.1"/></svg><div style="position:absolute;left:93px;top:1088.0px;line-height:18px;font-size:11.8px;color:#111;white-space:nowrap;">Temperature Variation (ta)</div><svg style="position:absolute;left:54px;top:1109px;overflow:visible" width="12" height="12" viewBox="0 0 12 12"><path d="M4.2,2.4 L7.8,6 L4.2,9.6" fill="none" stroke="#444" stroke-width="1.2"/></svg><svg style="position:absolute;left:71px;top:1107px;overflow:visible" width="16" height="16" viewBox="0 0 16 16"><rect x="0" y="0" width="14" height="15" fill="#b950a8"/><circle cx="12.5" cy="2.5" r="4" fill="#fff"/><path d="M12.5,-0.5 V5.5 M9.5,2.5 H15.5 M10.4,0.40000000000000036 L14.6,4.6 M10.4,4.6 L14.6,0.40000000000000036" stroke="#5a5a5a" stroke-width="1.1"/></svg><div style="position:absolute;left:93px;top:1106.0px;line-height:18px;font-size:11.8px;color:#111;white-space:nowrap;">Acoustic Pressure (acpr)</div><svg style="position:absolute;left:54px;top:1127px;overflow:visible" width="12" height="12" viewBox="0 0 12 12"><path d="M4.2,2.4 L7.8,6 L4.2,9.6" fill="none" stroke="#444" stroke-width="1.2"/></svg><svg style="position:absolute;left:71px;top:1125px;overflow:visible" width="16" height="16" viewBox="0 0 16 16"><rect x="0" y="0" width="14" height="15" fill="#b950a8"/><circle cx="12.5" cy="2.5" r="4" fill="#fff"/><path d="M12.5,-0.5 V5.5 M9.5,2.5 H15.5 M10.4,0.40000000000000036 L14.6,4.6 M10.4,4.6 L14.6,0.40000000000000036" stroke="#5a5a5a" stroke-width="1.1"/></svg><div style="position:absolute;left:93px;top:1124.0px;line-height:18px;font-size:11.8px;color:#111;white-space:nowrap;">Sound Pressure Level (acpr)</div><svg style="position:absolute;left:54px;top:1145px;overflow:visible" width="12" height="12" viewBox="0 0 12 12"><path d="M4.2,2.4 L7.8,6 L4.2,9.6" fill="none" stroke="#444" stroke-width="1.2"/></svg><svg style="position:absolute;left:71px;top:1143px;overflow:visible" width="16" height="16" viewBox="0 0 16 16"><path d="M0,3 L3,0 H15 V15 H3 L0,12Z" fill="#b950a8"/><path d="M0.3,2.3 L4,5 H15 M4,5 V15" fill="none" stroke="#fff" stroke-width="0.9"/></svg><div style="position:absolute;left:93px;top:1142.0px;line-height:18px;font-size:11.8px;color:#111;white-space:nowrap;">Acoustic Pressure, 3D (acpr)</div><svg style="position:absolute;left:54px;top:1163px;overflow:visible" width="12" height="12" viewBox="0 0 12 12"><path d="M4.2,2.4 L7.8,6 L4.2,9.6" fill="none" stroke="#444" stroke-width="1.2"/></svg><svg style="position:absolute;left:71px;top:1161px;overflow:visible" width="16" height="16" viewBox="0 0 16 16"><path d="M0,3 L3,0 H15 V15 H3 L0,12Z" fill="#b950a8"/><path d="M0.3,2.3 L4,5 H15 M4,5 V15" fill="none" stroke="#fff" stroke-width="0.9"/><circle cx="12.5" cy="2.5" r="4" fill="#fff"/><path d="M12.5,-0.5 V5.5 M9.5,2.5 H15.5 M10.4,0.40000000000000036 L14.6,4.6 M10.4,4.6 L14.6,0.40000000000000036" stroke="#5a5a5a" stroke-width="1.1"/></svg><div style="position:absolute;left:93px;top:1160.0px;line-height:18px;font-size:11.8px;color:#111;white-space:nowrap;">Sound Pressure Level, 3D (acpr)</div><svg style="position:absolute;left:54px;top:1181px;overflow:visible" width="12" height="12" viewBox="0 0 12 12"><path d="M4.2,2.4 L7.8,6 L4.2,9.6" fill="none" stroke="#444" stroke-width="1.2"/></svg><svg style="position:absolute;left:71px;top:1179px;overflow:visible" width="16" height="16" viewBox="0 0 16 16"><path d="M0,3 L3,0 H15 V15 H3 L0,12Z" fill="#b950a8"/><path d="M0.3,2.3 L4,5 H15 M4,5 V15" fill="none" stroke="#fff" stroke-width="0.9"/><circle cx="12.5" cy="2.5" r="4" fill="#fff"/><path d="M12.5,-0.5 V5.5 M9.5,2.5 H15.5 M10.4,0.40000000000000036 L14.6,4.6 M10.4,4.6 L14.6,0.40000000000000036" stroke="#5a5a5a" stroke-width="1.1"/></svg><div style="position:absolute;left:93px;top:1178.0px;line-height:18px;font-size:11.8px;color:#111;white-space:nowrap;">Bubble Displacement 1</div><svg style="position:absolute;left:54px;top:1199px;overflow:visible" width="12" height="12" viewBox="0 0 12 12"><path d="M4.2,2.4 L7.8,6 L4.2,9.6" fill="none" stroke="#444" stroke-width="1.2"/></svg><svg style="position:absolute;left:71px;top:1197px;overflow:visible" width="16" height="16" viewBox="0 0 16 16"><path d="M0,10 Q4,2 8,9 T16,8" fill="none" stroke="#b950a8" stroke-width="1.2"/><circle cx="12.5" cy="2.5" r="3.6" fill="#fff"/><path d="M12.5,-0.5 V5.5 M9.5,2.5 H15.5 M10.4,0.40000000000000036 L14.6,4.6 M10.4,4.6 L14.6,0.40000000000000036" stroke="#5a5a5a" stroke-width="1.1"/></svg><div style="position:absolute;left:93px;top:1196.0px;line-height:18px;font-size:11.8px;color:#111;white-space:nowrap;">1D Plot Group 13</div><svg style="position:absolute;left:54px;top:1217px;overflow:visible" width="12" height="12" viewBox="0 0 12 12"><path d="M4.2,2.4 L7.8,6 L4.2,9.6" fill="none" stroke="#444" stroke-width="1.2"/></svg><svg style="position:absolute;left:71px;top:1215px;overflow:visible" width="16" height="16" viewBox="0 0 16 16"><path d="M0,10 Q4,3 8,9 T16,8" fill="none" stroke="#b950a8" stroke-width="1.2"/></svg><div style="position:absolute;left:93px;top:1214.0px;line-height:18px;font-size:11.8px;color:#111;white-space:nowrap;">Probe Plot Group 14</div><svg style="position:absolute;left:54px;top:1235px;overflow:visible" width="12" height="12" viewBox="0 0 12 12"><path d="M4.2,2.4 L7.8,6 L4.2,9.6" fill="none" stroke="#444" stroke-width="1.2"/></svg><svg style="position:absolute;left:71px;top:1233px;overflow:visible" width="16" height="16" viewBox="0 0 16 16"><rect x="0" y="0" width="14" height="15" fill="#b950a8"/></svg><div style="position:absolute;left:93px;top:1232.0px;line-height:18px;font-size:11.8px;color:#111;white-space:nowrap;">Acoustic Pressure (actd)</div><svg style="position:absolute;left:54px;top:1253px;overflow:visible" width="12" height="12" viewBox="0 0 12 12"><path d="M4.2,2.4 L7.8,6 L4.2,9.6" fill="none" stroke="#444" stroke-width="1.2"/></svg><svg style="position:absolute;left:71px;top:1251px;overflow:visible" width="16" height="16" viewBox="0 0 16 16"><path d="M0,3 L3,0 H15 V15 H3 L0,12Z" fill="#b950a8"/><path d="M0.3,2.3 L4,5 H15 M4,5 V15" fill="none" stroke="#fff" stroke-width="0.9"/><circle cx="12.5" cy="2.5" r="4" fill="#fff"/><path d="M12.5,-0.5 V5.5 M9.5,2.5 H15.5 M10.4,0.40000000000000036 L14.6,4.6 M10.4,4.6 L14.6,0.40000000000000036" stroke="#5a5a5a" stroke-width="1.1"/></svg><div style="position:absolute;left:93px;top:1250.0px;line-height:18px;font-size:11.8px;color:#111;white-space:nowrap;">Acoustic Pressure, 3D (actd)</div><svg style="position:absolute;left:54px;top:1271px;overflow:visible" width="12" height="12" viewBox="0 0 12 12"><path d="M4.2,2.4 L7.8,6 L4.2,9.6" fill="none" stroke="#444" stroke-width="1.2"/></svg><svg style="position:absolute;left:71px;top:1269px;overflow:visible" width="16" height="16" viewBox="0 0 16 16"><rect x="0" y="0" width="14" height="15" fill="#b950a8"/><circle cx="12.5" cy="2.5" r="4" fill="#fff"/><path d="M12.5,-0.5 V5.5 M9.5,2.5 H15.5 M10.4,0.40000000000000036 L14.6,4.6 M10.4,4.6 L14.6,0.40000000000000036" stroke="#5a5a5a" stroke-width="1.1"/></svg><div style="position:absolute;left:93px;top:1268.0px;line-height:18px;font-size:11.8px;color:#111;white-space:nowrap;">Acoustic Pressure (tatd)</div><svg style="position:absolute;left:54px;top:1289px;overflow:visible" width="12" height="12" viewBox="0 0 12 12"><path d="M4.2,2.4 L7.8,6 L4.2,9.6" fill="none" stroke="#444" stroke-width="1.2"/></svg><svg style="position:absolute;left:71px;top:1287px;overflow:visible" width="16" height="16" viewBox="0 0 16 16"><rect x="0" y="0" width="14" height="15" fill="#b950a8"/><circle cx="12.5" cy="2.5" r="4" fill="#fff"/><path d="M12.5,-0.5 V5.5 M9.5,2.5 H15.5 M10.4,0.40000000000000036 L14.6,4.6 M10.4,4.6 L14.6,0.40000000000000036" stroke="#5a5a5a" stroke-width="1.1"/></svg><div style="position:absolute;left:93px;top:1286.0px;line-height:18px;font-size:11.8px;color:#111;white-space:nowrap;">Acoustic Velocity (tatd)</div><svg style="position:absolute;left:54px;top:1307px;overflow:visible" width="12" height="12" viewBox="0 0 12 12"><path d="M4.2,2.4 L7.8,6 L4.2,9.6" fill="none" stroke="#444" stroke-width="1.2"/></svg><svg style="position:absolute;left:71px;top:1305px;overflow:visible" width="16" height="16" viewBox="0 0 16 16"><path d="M0,3 L3,0 H15 V15 H3 L0,12Z" fill="#b950a8"/><path d="M0.3,2.3 L4,5 H15 M4,5 V15" fill="none" stroke="#fff" stroke-width="0.9"/><circle cx="12.5" cy="2.5" r="4" fill="#fff"/><path d="M12.5,-0.5 V5.5 M9.5,2.5 H15.5 M10.4,0.40000000000000036 L14.6,4.6 M10.4,4.6 L14.6,0.40000000000000036" stroke="#5a5a5a" stroke-width="1.1"/></svg><div style="position:absolute;left:93px;top:1304.0px;line-height:18px;font-size:11.8px;color:#111;white-space:nowrap;">Temperature Variation (tatd)</div><svg style="position:absolute;left:54px;top:1325px;overflow:visible" width="12" height="12" viewBox="0 0 12 12"><path d="M4.2,2.4 L7.8,6 L4.2,9.6" fill="none" stroke="#444" stroke-width="1.2"/></svg><svg style="position:absolute;left:71px;top:1323px;overflow:visible" width="16" height="16" viewBox="0 0 16 16"><path d="M0.5,10 L3,14.5 H15.5 V12 H4Z" fill="#999" stroke="#777" stroke-width="0.8"/><rect x="2.5" y="0.5" width="10" height="11" fill="#fff" stroke="#777" stroke-width="0.9"/><rect x="4.5" y="2.5" width="10" height="10" fill="#fff" stroke="#777" stroke-width="0.9"/><text x="6" y="11" font-size="7" fill="#b950a8" font-family="Liberation Sans">8i</text><circle cx="12.5" cy="2.5" r="3.6" fill="#fff"/><path d="M12.5,-0.5 V5.5 M9.5,2.5 H15.5 M10.4,0.40000000000000036 L14.6,4.6 M10.4,4.6 L14.6,0.40000000000000036" stroke="#5a5a5a" stroke-width="1.1"/></svg><div style="position:absolute;left:93px;top:1322.0px;line-height:18px;font-size:11.8px;color:#111;white-space:nowrap;">Evaluation Group 1</div><svg style="position:absolute;left:54px;top:1343px;overflow:visible" width="12" height="12" viewBox="0 0 12 12"><path d="M2.4,4.2 L6,7.8 L9.6,4.2" fill="none" stroke="#222" stroke-width="1.3"/></svg><svg style="position:absolute;left:71px;top:1341px;overflow:visible" width="16" height="16" viewBox="0 0 16 16"><path d="M0,4 L3,0 H15 V15 H0Z" fill="#b950a8"/><path d="M0.5,4 H15 M3,7 H13 V13 H3Z M6,1 H13" fill="none" stroke="#f3d3ee" stroke-width="0.9"/></svg><div style="position:absolute;left:93px;top:1340.0px;line-height:18px;font-size:11.8px;color:#111;white-space:nowrap;">Export</div></div><div style="position:absolute;left:569px;top:175px;width:711px;height:1185px;background:#f9fafd;border-radius:5px 5px 1px 1px;box-shadow:0 0 1px rgba(0,0,0,0.12)"></div><div style="position:absolute;left:576px;top:181.5px;line-height:28px;font-size:20.5px;color:#2b5ba8;white-space:nowrap;">Settings</div><svg style="position:absolute;left:1236px;top:191px;overflow:visible" width="10" height="6" viewBox="0 0 10 6"><path d="M0,0 H10 L5,5Z" fill="#a8a8ad"/></svg><svg style="position:absolute;left:1250px;top:189px;overflow:visible" width="11" height="10" viewBox="0 0 11 10"><rect x="0.5" y="0.5" width="10" height="8" fill="none" stroke="#a8a8ad" stroke-width="1"/><path d="M0.5,1.5 H10.5" stroke="#a8a8ad" stroke-width="1.5"/></svg><svg style="position:absolute;left:1266px;top:188px;overflow:visible" width="9" height="13" viewBox="0 0 9 13"><rect x="2" y="0" width="5" height="7" fill="#a8a8ad"/><rect x="0" y="6" width="9" height="2" fill="#a8a8ad"/><path d="M4.5,8 V13" stroke="#a8a8ad" stroke-width="1.2"/></svg><div style="position:absolute;left:575px;top:209.8px;line-height:18px;font-size:12.6px;color:#2b64b0;white-space:nowrap;">Pressure Acoustics, Transient</div><div style="position:absolute;left:574px;top:242.5px;line-height:18px;font-size:11.6px;color:#111;white-space:nowrap;">Label:</div><div style="position:absolute;left:619px;top:243px;width:627px;height:18px;background:#fff;border:1px solid #d3d3d6;box-sizing:border-box"></div><div style="position:absolute;left:622px;top:243.0px;line-height:18px;font-size:11.6px;color:#111;white-space:nowrap;">Pressure Acoustics, Transient</div><div style="position:absolute;left:1254px;top:241px;width:20px;height:22px;background:#eceef2;border:1px solid #d6d8de;border-radius:3px;box-sizing:border-box"></div><svg style="position:absolute;left:1256px;top:244px;overflow:visible" width="16" height="15" viewBox="0 0 16 15"><rect x="2.5" y="0.5" width="13" height="13" rx="1" fill="#fff" stroke="#555" stroke-width="1"/><path d="M2.5,2.5 H15.5" stroke="#777" stroke-width="1.5"/><path d="M6.5,6 H13 M6.5,8.5 H13" stroke="#1f9b7a" stroke-width="1"/><path d="M1,14.5 L5,10.5 M2.5,10 H5.5 V13" fill="none" stroke="#1f9b7a" stroke-width="1.4"/></svg><div style="position:absolute;left:574px;top:268.5px;line-height:18px;font-size:11.6px;color:#111;white-space:nowrap;">Name:</div><div style="position:absolute;left:619px;top:269px;width:627px;height:18px;background:#fff;border:1px solid #d3d3d6;box-sizing:border-box"></div><div style="position:absolute;left:622px;top:269.0px;line-height:18px;font-size:11.6px;color:#111;white-space:nowrap;">actd</div><div style="position:absolute;left:569px;top:296px;width:711px;height:1px;background:#e2e3e8"></div><svg style="position:absolute;left:573px;top:304.5px;overflow:visible" width="12" height="12" viewBox="0 0 12 12"><path d="M2.7,4.35 L6,7.65 L9.3,4.35" fill="none" stroke="#2b64b0" stroke-width="1.3"/></svg><div style="position:absolute;left:595px;top:301.8px;line-height:18px;font-size:13.4px;color:#2b64b0;white-space:nowrap;">Domain Selection</div><div style="position:absolute;left:574px;top:333.5px;line-height:18px;font-size:11.6px;color:#111;white-space:nowrap;">Selection:</div><div style="position:absolute;left:635px;top:333px;width:639px;height:20px;background:linear-gradient(#f1f1f1,#e6e6e6);border:1px solid #d0d0d3;border-radius:2px;box-sizing:border-box"></div><div style="position:absolute;left:648px;top:336px;width:16px;height:13px;background:#3a8fd6;border-radius:4px"></div><div style="position:absolute;left:668px;top:334.0px;line-height:18px;font-size:11.6px;color:#111;white-space:nowrap;">Manual</div><svg style="position:absolute;left:1260.0px;top:341.0px;overflow:visible" width="8" height="5" viewBox="0 0 8 5"><path d="M0,0 L8,0 L4.0,5 Z" fill="#111"/></svg><div style="position:absolute;left:573px;top:359px;width:40px;height:40px;background:#cfe5f8;border:1px solid #9cc7ec;border-radius:2px;box-sizing:border-box"></div><svg style="position:absolute;left:578px;top:371px;overflow:visible" width="30" height="16" viewBox="0 0 30 16"><rect x="1" y="1" width="28" height="14" rx="2" fill="#ddd" stroke="#444" stroke-width="1.2"/><rect x="3.5" y="4" width="15" height="8" fill="#3daa4a"/><rect x="20" y="3.5" width="7" height="9" fill="#bbb" stroke="#444" stroke-width="1"/></svg><div style="position:absolute;left:620px;top:359px;width:597px;height:121px;background:#f9fafd;border:1px solid #cfcfd3;border-bottom:3px solid #cfcfd3;box-sizing:border-box"></div><div style="position:absolute;left:627px;top:361.5px;line-height:18px;font-size:11.6px;color:#111;white-space:nowrap;">1</div><div style="position:absolute;left:627px;top:380.5px;line-height:18px;font-size:11.6px;color:#111;white-space:nowrap;">5</div><svg style="position:absolute;left:1229px;top:360px;overflow:visible" width="15" height="14" viewBox="0 0 15 14"><g fill="none" stroke="#999" stroke-width="1"><circle cx="3" cy="3" r="2.2"/><circle cx="7" cy="6" r="2.2"/></g><rect x="9" y="8" width="5" height="5" fill="#3a8fd6"/></svg><svg style="position:absolute;left:1229px;top:380px;overflow:visible" width="16" height="15" viewBox="0 0 16 15"><rect x="0.5" y="0.5" width="10" height="11" fill="none" stroke="#777" stroke-width="1"/><rect x="5.5" y="3.5" width="10" height="11" fill="#fff" stroke="#3a8fd6" stroke-width="1.2"/><path d="M8,7 H13 M8,9.5 H13 M8,12 H13" stroke="#3a8fd6" stroke-width="1"/></svg><svg style="position:absolute;left:1229px;top:400px;overflow:visible" width="16" height="16" viewBox="0 0 16 16"><rect x="0.5" y="2" width="10" height="11" fill="none" stroke="#777" stroke-width="1"/><rect x="5.5" y="6" width="10" height="9.5" fill="#fff" stroke="#3a8fd6" stroke-width="1.2"/><rect x="3" y="0.5" width="5" height="3" fill="#fff" stroke="#777"/></svg><svg style="position:absolute;left:1229px;top:419px;overflow:visible" width="16" height="16" viewBox="0 0 16 16"><rect x="4" y="4" width="8" height="8" fill="none" stroke="#555" stroke-width="1"/><path d="M8,5.5 V10.5 M5.5,8 H10.5" stroke="#555"/><path d="M8,0 L6.5,2 H9.5Z M8,16 L6.5,14 H9.5Z M0,8 L2,6.5 V9.5Z M16,8 L14,6.5 V9.5Z" fill="#3a8fd6"/></svg><svg style="position:absolute;left:1258px;top:359px;overflow:visible" width="15" height="15" viewBox="0 0 15 15"><path d="M7.5,0.5 V14.5 M0.5,7.5 H14.5" stroke="#777" stroke-width="1.1"/></svg><div style="position:absolute;left:1258px;top:386px;width:15px;height:1px;background:#3a8fd6"></div><svg style="position:absolute;left:1258px;top:399px;overflow:visible" width="15" height="16" viewBox="0 0 15 16"><rect x="1" y="1" width="13.5" height="13.5" fill="none" stroke="#3a8fd6" stroke-width="1.2" stroke-dasharray="2,1.4"/><path d="M4,3 L13,3 L13,12Z" fill="#3a8fd6"/><path d="M1,0 L4.5,8" stroke="#555" stroke-width="1"/><path d="M3,7 L7,8.5 L7,15 L4,15Z" fill="#f0a43a"/></svg><div style="position:absolute;left:569px;top:490px;width:711px;height:1px;background:#e2e3e8"></div><svg style="position:absolute;left:573px;top:498.5px;overflow:visible" width="12" height="12" viewBox="0 0 12 12"><path d="M4.35,2.7 L7.65,6 L4.35,9.3" fill="none" stroke="#222" stroke-width="1.4"/></svg><div style="position:absolute;left:595px;top:495.8px;line-height:18px;font-size:13.4px;color:#2b64b0;white-space:nowrap;">Equation</div><div style="position:absolute;left:569px;top:519px;width:711px;height:1px;background:#e2e3e8"></div><svg style="position:absolute;left:573px;top:527.5px;overflow:visible" width="12" height="12" viewBox="0 0 12 12"><path d="M2.7,4.35 L6,7.65 L9.3,4.35" fill="none" stroke="#2b64b0" stroke-width="1.3"/></svg><div style="position:absolute;left:595px;top:524.8px;line-height:18px;font-size:13.4px;color:#2b64b0;white-space:nowrap;">Physics Symbols</div><div style="position:absolute;left:575px;top:555px;width:14px;height:14px;background:#fff;border:1px solid #777;box-sizing:border-box"></div><svg style="position:absolute;left:576px;top:556px;overflow:visible" width="12" height="12" viewBox="0 0 12 12"><path d="M2.5,6 L5,9 L10,2" fill="none" stroke="#222" stroke-width="1.6"/></svg><div style="position:absolute;left:594px;top:553.0px;line-height:18px;font-size:11.6px;color:#111;white-space:nowrap;">Enable physics symbols</div><div style="position:absolute;left:569px;top:582px;width:711px;height:1px;background:#e2e3e8"></div><svg style="position:absolute;left:573px;top:589.5px;overflow:visible" width="12" height="12" viewBox="0 0 12 12"><path d="M2.7,4.35 L6,7.65 L9.3,4.35" fill="none" stroke="#2b64b0" stroke-width="1.3"/></svg><div style="position:absolute;left:595px;top:586.8px;line-height:18px;font-size:13.4px;color:#2b64b0;white-space:nowrap;">Pressure Acoustics Equation Settings</div><div style="position:absolute;left:574px;top:615.5px;line-height:18px;font-size:11.6px;color:#111;white-space:nowrap;">Azimuthal mode number:</div><div style="position:absolute;left:576px;top:638.0px;line-height:18px;font-size:12.5px;color:#111;white-space:nowrap;font-style:italic;">m</div><div style="position:absolute;left:599px;top:638px;width:659px;height:19px;background:#fff;border:1px solid #d3d3d6;box-sizing:border-box"></div><div style="position:absolute;left:603px;top:638.5px;line-height:18px;font-size:11.6px;color:#111;white-space:nowrap;">0</div><div style="position:absolute;left:1267px;top:638.5px;line-height:18px;font-size:11.6px;color:#111;white-space:nowrap;">1</div><div style="position:absolute;left:569px;top:667px;width:711px;height:1px;background:#e2e3e8"></div><svg style="position:absolute;left:573px;top:675.5px;overflow:visible" width="12" height="12" viewBox="0 0 12 12"><path d="M2.7,4.35 L6,7.65 L9.3,4.35" fill="none" stroke="#2b64b0" stroke-width="1.3"/></svg><div style="position:absolute;left:595px;top:672.8px;line-height:18px;font-size:13.4px;color:#2b64b0;white-space:nowrap;">Sound Pressure Level Settings</div><div style="position:absolute;left:574px;top:701.5px;line-height:18px;font-size:11.6px;color:#111;white-space:nowrap;">Reference pressure for the sound pressure level:</div><div style="position:absolute;left:574px;top:725px;width:699px;height:20px;background:linear-gradient(#f1f1f1,#e6e6e6);border:1px solid #d0d0d3;border-radius:2px;box-sizing:border-box"></div><div style="position:absolute;left:587px;top:726.0px;line-height:18px;font-size:11.6px;color:#111;white-space:nowrap;">Use reference pressure for water</div><svg style="position:absolute;left:1259.0px;top:733.0px;overflow:visible" width="8" height="5" viewBox="0 0 8 5"><path d="M0,0 L8,0 L4.0,5 Z" fill="#111"/></svg><div style="position:absolute;left:577px;top:749.0px;line-height:18px;font-size:12.8px;color:#111;white-space:nowrap;"><i>p</i><span style="font-size:10px;vertical-align:-4px">ref,SPL</span> <span style="font-size:13px">=</span> 1 μPa</div><div style="position:absolute;left:569px;top:780px;width:711px;height:1px;background:#e2e3e8"></div><svg style="position:absolute;left:573px;top:788.5px;overflow:visible" width="12" height="12" viewBox="0 0 12 12"><path d="M2.7,4.35 L6,7.65 L9.3,4.35" fill="none" stroke="#2b64b0" stroke-width="1.3"/></svg><div style="position:absolute;left:595px;top:785.8px;line-height:18px;font-size:13.4px;color:#2b64b0;white-space:nowrap;">Typical Wave Speed for Perfectly Matched Layers</div><div style="position:absolute;left:576px;top:814.0px;line-height:18px;font-size:12.8px;color:#111;white-space:nowrap;"><i>c</i><span style="font-size:10px;vertical-align:-4px">ref</span></div><div style="position:absolute;left:609px;top:816px;width:634px;height:18px;background:#fff;border:1px solid #d3d3d6;box-sizing:border-box"></div><div style="position:absolute;left:612px;top:816.0px;line-height:18px;font-size:11.6px;color:#111;white-space:nowrap;">actd.c</div><div style="position:absolute;left:1253px;top:816.0px;line-height:18px;font-size:11.6px;color:#111;white-space:nowrap;">m/s</div><div style="position:absolute;left:569px;top:845px;width:711px;height:1px;background:#e2e3e8"></div><svg style="position:absolute;left:573px;top:853.5px;overflow:visible" width="12" height="12" viewBox="0 0 12 12"><path d="M2.7,4.35 L6,7.65 L9.3,4.35" fill="none" stroke="#2b64b0" stroke-width="1.3"/></svg><div style="position:absolute;left:595px;top:850.8px;line-height:18px;font-size:13.4px;color:#2b64b0;white-space:nowrap;">Transient Solver and Mesh Settings</div><div style="position:absolute;left:576px;top:879.5px;line-height:18px;font-size:11.82px;color:#111;white-space:nowrap;">Changes made to these settings influence the solver only when the default solver is generated.</div><div style="position:absolute;left:574px;top:902px;width:699px;height:1px;background:#dcdde2"></div><div style="position:absolute;left:574px;top:907.5px;line-height:18px;font-size:11.6px;color:#111;white-space:nowrap;">Maximum frequency to resolve:</div><div style="position:absolute;left:576px;top:928.0px;line-height:18px;font-size:12.8px;color:#111;white-space:nowrap;"><i>f</i><span style="font-size:10px;vertical-align:-4px">max</span></div><div style="position:absolute;left:615px;top:929px;width:635px;height:19px;background:#fff;border:1px solid #d3d3d6;box-sizing:border-box"></div><div style="position:absolute;left:617px;top:929.5px;line-height:18px;font-size:11.6px;color:#111;white-space:nowrap;">300[kHz]</div><div style="position:absolute;left:1260px;top:930.0px;line-height:18px;font-size:11.6px;color:#111;white-space:nowrap;">Hz</div><div style="position:absolute;left:574px;top:952.5px;line-height:18px;font-size:11.6px;color:#111;white-space:nowrap;">Time stepping:</div><div style="position:absolute;left:574px;top:976px;width:699px;height:20px;background:linear-gradient(#f1f1f1,#e6e6e6);border:1px solid #d0d0d3;border-radius:2px;box-sizing:border-box"></div><div style="position:absolute;left:587px;top:977.0px;line-height:18px;font-size:11.6px;color:#111;white-space:nowrap;">Fixed (preferred)</div><svg style="position:absolute;left:1259.0px;top:984.0px;overflow:visible" width="8" height="5" viewBox="0 0 8 5"><path d="M0,0 L8,0 L4.0,5 Z" fill="#111"/></svg><div style="position:absolute;left:569px;top:1007px;width:711px;height:1px;background:#e2e3e8"></div><svg style="position:absolute;left:573px;top:1015.5px;overflow:visible" width="12" height="12" viewBox="0 0 12 12"><path d="M4.35,2.7 L7.65,6 L4.35,9.3" fill="none" stroke="#222" stroke-width="1.4"/></svg><div style="position:absolute;left:595px;top:1012.8px;line-height:18px;font-size:13.4px;color:#2b64b0;white-space:nowrap;">Discretization</div><div style="position:absolute;left:569px;top:1036px;width:711px;height:1px;background:#e2e3e8"></div><svg style="position:absolute;left:573px;top:1044.5px;overflow:visible" width="12" height="12" viewBox="0 0 12 12"><path d="M4.35,2.7 L7.65,6 L4.35,9.3" fill="none" stroke="#222" stroke-width="1.4"/></svg><div style="position:absolute;left:595px;top:1041.8px;line-height:18px;font-size:13.4px;color:#2b64b0;white-space:nowrap;">Dependent Variables</div><div style="position:absolute;left:1286px;top:175px;width:1270px;height:944px;background:#f9fafd;border-radius:5px 5px 1px 1px;box-shadow:0 0 1px rgba(0,0,0,0.12)"></div><div style="position:absolute;left:1298px;top:181.5px;line-height:18px;font-size:12.8px;color:#2f7cc4;white-space:nowrap;">Graphics</div><div style="position:absolute;left:1294px;top:203px;width:59px;height:3px;background:#2f7cc4"></div><div style="position:absolute;left:1376px;top:181.5px;line-height:18px;font-size:12.8px;color:#333;white-space:nowrap;">Probe Plot 1</div><svg style="position:absolute;left:1456px;top:187px;overflow:visible" width="8" height="8" viewBox="0 0 8 8"><path d="M0.5,0.5 L7.5,7.5 M7.5,0.5 L0.5,7.5" stroke="#999" stroke-width="1"/></svg><div style="position:absolute;left:1495px;top:181.5px;line-height:18px;font-size:12.8px;color:#333;white-space:nowrap;">Convergence Plot 1</div><svg style="position:absolute;left:1616px;top:187px;overflow:visible" width="8" height="8" viewBox="0 0 8 8"><path d="M0.5,0.5 L7.5,7.5 M7.5,0.5 L0.5,7.5" stroke="#999" stroke-width="1"/></svg><div style="position:absolute;left:1655px;top:181.5px;line-height:18px;font-size:12.8px;color:#333;white-space:nowrap;">Function Plot</div><svg style="position:absolute;left:1737px;top:187px;overflow:visible" width="8" height="8" viewBox="0 0 8 8"><path d="M0.5,0.5 L7.5,7.5 M7.5,0.5 L0.5,7.5" stroke="#999" stroke-width="1"/></svg><svg style="position:absolute;left:2512px;top:186px;overflow:visible" width="10" height="6" viewBox="0 0 10 6"><path d="M0,0 H10 L5,5Z" fill="#9cc5ea"/></svg><svg style="position:absolute;left:2526px;top:184px;overflow:visible" width="11" height="10" viewBox="0 0 11 10"><rect x="0.5" y="0.5" width="10" height="8" fill="none" stroke="#9cc5ea" stroke-width="1"/><path d="M0.5,1.5 H10.5" stroke="#9cc5ea" stroke-width="1.5"/></svg><svg style="position:absolute;left:2542px;top:183px;overflow:visible" width="9" height="13" viewBox="0 0 9 13"><rect x="2" y="0" width="5" height="7" fill="#9cc5ea"/><rect x="0" y="6" width="9" height="2" fill="#9cc5ea"/><path d="M4.5,8 V13" stroke="#9cc5ea" stroke-width="1.2"/></svg><div style="position:absolute;left:1286px;top:206px;width:1270px;height:1px;background:#d5d6db"></div><svg style="position:absolute;left:1293px;top:211px;overflow:visible" width="14" height="14" viewBox="0 0 14 14"><circle cx="6" cy="6" r="5" fill="none" stroke="#3a8fd6" stroke-width="1.3"/><path d="M9.5,9.5 L13.5,13.5" stroke="#3a8fd6" stroke-width="2"/><path d="M3.3,6 H8.7" stroke="#3a8fd6" stroke-width="1.1"/><path d="M6,3.3 V8.7" stroke="#3a8fd6" stroke-width="1.1"/></svg><svg style="position:absolute;left:1316px;top:211px;overflow:visible" width="14" height="14" viewBox="0 0 14 14"><circle cx="6" cy="6" r="5" fill="none" stroke="#3a8fd6" stroke-width="1.3"/><path d="M9.5,9.5 L13.5,13.5" stroke="#3a8fd6" stroke-width="2"/><path d="M3.3,6 H8.7" stroke="#3a8fd6" stroke-width="1.1"/></svg><svg style="position:absolute;left:1340px;top:211px;overflow:visible" width="15" height="15" viewBox="0 0 15 15"><rect x="0.5" y="2.5" width="10" height="10" fill="none" stroke="#3a8fd6" stroke-width="1" stroke-dasharray="1.5,1"/><circle cx="8" cy="6" r="4" fill="none" stroke="#3a8fd6" stroke-width="1.4"/><path d="M11,9 L14,12" stroke="#3a8fd6" stroke-width="1.8"/><path d="M6,6 H10 M8,4 V8" stroke="#3a8fd6" stroke-width="1.1"/></svg><svg style="position:absolute;left:1360.5px;top:217.0px;overflow:visible" width="7" height="4" viewBox="0 0 7 4"><path d="M0,0 L7,0 L3.5,4 Z" fill="#111"/></svg><svg style="position:absolute;left:1380px;top:211px;overflow:visible" width="15" height="15" viewBox="0 0 15 15"><rect x="3.5" y="3.5" width="8" height="8" fill="none" stroke="#555" stroke-width="1"/><path d="M7.5,5 V10 M5,7.5 H10" stroke="#555"/><path d="M7.5,0 L6,2 H9Z M7.5,15 L6,13 H9Z M0,7.5 L2,6 V9Z M15,7.5 L13,6 V9Z" fill="#3a8fd6"/></svg><svg style="position:absolute;left:1403px;top:211px;overflow:visible" width="15" height="15" viewBox="0 0 15 15"><rect x="0.5" y="0.5" width="14" height="14" fill="none" stroke="#555" stroke-width="1"/><path d="M7.5,3 V12 M3,7.5 H12" stroke="#555"/><path d="M7.5,2 L6,4 H9Z M7.5,13 L6,11 H9Z M2,7.5 L4,6 V9Z M13,7.5 L11,6 V9Z" fill="#3a8fd6"/></svg><div style="position:absolute;left:1426px;top:210px;width:1px;height:17px;background:#d0d0d4"></div><div style="position:absolute;left:1475px;top:210px;width:1px;height:17px;background:#d0d0d4"></div><div style="position:absolute;left:1524px;top:210px;width:1px;height:17px;background:#d0d0d4"></div><div style="position:absolute;left:1660px;top:210px;width:1px;height:17px;background:#d0d0d4"></div><div style="position:absolute;left:1756px;top:210px;width:1px;height:17px;background:#d0d0d4"></div><div style="position:absolute;left:1786px;top:210px;width:1px;height:17px;background:#d0d0d4"></div><div style="position:absolute;left:1857px;top:210px;width:1px;height:17px;background:#d0d0d4"></div><svg style="position:absolute;left:1433px;top:210px;overflow:visible" width="17" height="16" viewBox="0 0 17 16"><path d="M7.5,14 V1.5 M5.5,3.5 L7.5,1.5 L9.5,3.5" fill="none" stroke="#2f86d1" stroke-width="1.1"/><path d="M7.5,14 L1,8.5 M1,11 V8.5 H3.5" fill="none" stroke="#3aa655" stroke-width="1.1"/><path d="M7.5,14 L16,8.5 M13,8.3 H16 V11" fill="none" stroke="#d6336a" stroke-width="1.1"/></svg><svg style="position:absolute;left:1456.5px;top:217.0px;overflow:visible" width="7" height="4" viewBox="0 0 7 4"><path d="M0,0 L7,0 L3.5,4 Z" fill="#111"/></svg><div style="position:absolute;left:1482px;top:212px;width:17px;height:12px;background:#3a8fd6;border-radius:4px"></div><svg style="position:absolute;left:1505.5px;top:217.0px;overflow:visible" width="7" height="4" viewBox="0 0 7 4"><path d="M0,0 L7,0 L3.5,4 Z" fill="#111"/></svg><svg style="position:absolute;left:1532px;top:210px;overflow:visible" width="17" height="15" viewBox="0 0 17 15"><rect x="1" y="5" width="15" height="9" rx="3" fill="#ddd" stroke="#777"/><rect x="4" y="1" width="8" height="6" fill="none" stroke="#3a8fd6" stroke-dasharray="1.5,1"/></svg><svg style="position:absolute;left:1554.5px;top:217.0px;overflow:visible" width="7" height="4" viewBox="0 0 7 4"><path d="M0,0 L7,0 L3.5,4 Z" fill="#111"/></svg><svg style="position:absolute;left:1573px;top:210px;overflow:visible" width="17" height="15" viewBox="0 0 17 15"><rect x="1" y="5" width="15" height="9" rx="3" fill="#3a8fd6"/><rect x="4" y="1" width="8" height="6" fill="#cfe3f7" stroke="#fff" stroke-dasharray="1.5,1"/></svg><svg style="position:absolute;left:1595.5px;top:217.0px;overflow:visible" width="7" height="4" viewBox="0 0 7 4"><path d="M0,0 L7,0 L3.5,4 Z" fill="#111"/></svg><svg style="position:absolute;left:1614px;top:210px;overflow:visible" width="16" height="16" viewBox="0 0 16 16"><rect x="0.7" y="0.7" width="13" height="13" fill="none" stroke="#3a8fd6" stroke-width="1.2" stroke-dasharray="2,1.5"/><rect x="3" y="3" width="6" height="6" fill="#3a8fd6"/><path d="M7,7 L15,15" stroke="#3a8fd6" stroke-width="1.6"/><path d="M6,6 L11,7 L7,11Z" fill="#3a8fd6"/></svg><svg style="position:absolute;left:1637px;top:210px;overflow:visible" width="15" height="16" viewBox="0 0 15 16"><rect x="1" y="1" width="13" height="13.5" fill="none" stroke="#3a8fd6" stroke-width="1.2" stroke-dasharray="2,1.5"/><path d="M5,4 L13,4 L13,12Z" fill="#3a8fd6"/><path d="M1,0 L5,9" stroke="#555"/><path d="M4,8 L8,9 L8,15 L5,15Z" fill="#f0a43a"/></svg><svg style="position:absolute;left:1668px;top:212px;overflow:visible" width="15" height="12" viewBox="0 0 15 12"><path d="M1,6 Q7.5,0 14,6 Q7.5,12 1,6Z" fill="none" stroke="#3a8fd6" stroke-width="1.2"/><path d="M2,11 L13,1" stroke="#3a8fd6" stroke-width="1.3"/></svg><svg style="position:absolute;left:1690px;top:210px;overflow:visible" width="16" height="16" viewBox="0 0 16 16"><path d="M9,1 A4,4 0 1 1 5,6" fill="none" stroke="#555" stroke-width="1.2"/><path d="M3,2 H7 V6Z" fill="#555"/><ellipse cx="4" cy="13" rx="3" ry="2" fill="none" stroke="#3a8fd6" stroke-width="1.1"/><ellipse cx="12" cy="13" rx="3" ry="2" fill="none" stroke="#3a8fd6" stroke-width="1.1"/></svg><svg style="position:absolute;left:1714px;top:211px;overflow:visible" width="17" height="14" viewBox="0 0 17 14"><rect x="0.5" y="0.5" width="16" height="13" fill="none" stroke="#3a8fd6" stroke-width="1"/><path d="M0.5,2.5 H16.5" stroke="#3a8fd6" stroke-width="1.5"/><ellipse cx="8.5" cy="8" rx="5" ry="3" fill="none" stroke="#3a8fd6" stroke-width="1.1"/><circle cx="8.5" cy="8" r="1.3" fill="#3a8fd6"/></svg><svg style="position:absolute;left:1736.5px;top:217.0px;overflow:visible" width="7" height="4" viewBox="0 0 7 4"><path d="M0,0 L7,0 L3.5,4 Z" fill="#111"/></svg><div style="position:absolute;left:1761px;top:208px;width:20px;height:20px;background:#cfe5f8;border:1px solid #9cc7ec;border-radius:2px;box-sizing:border-box"></div><svg style="position:absolute;left:1764px;top:211px;overflow:visible" width="14" height="14" viewBox="0 0 14 14"><rect x="0.5" y="0.5" width="13" height="13" fill="none" stroke="#2b4a7a" stroke-width="1.2"/><path d="M4.8,1 V13 M9.2,1 V13 M1,4.8 H13 M1,9.2 H13" stroke="#2b4a7a" stroke-width="1"/></svg><svg style="position:absolute;left:1793px;top:210px;overflow:visible" width="16" height="17" viewBox="0 0 16 17"><rect x="1" y="0.5" width="13" height="4" fill="#ddd" stroke="#999" stroke-width="0.8"/><rect x="2" y="4.5" width="11" height="4" fill="#3a8fd6"/><circle cx="9" cy="12.5" r="3.5" fill="#fff" stroke="#d6336a" stroke-width="1.4"/><path d="M6.5,15 L11.5,10" stroke="#d6336a" stroke-width="1.3"/></svg><svg style="position:absolute;left:1817px;top:210px;overflow:visible" width="16" height="16" viewBox="0 0 16 16"><path d="M8,1 C3,1 1,5 1,9 C1,13 4,15 7,15 C9,15 9,12 11,12 C14,12 15,10 15,8 C15,4 12,1 8,1Z" fill="#ddd" stroke="#777" stroke-width="1"/><circle cx="5" cy="6" r="1.5" fill="#3a8fd6"/><circle cx="9" cy="4.5" r="1.5" fill="#f0a43a"/><circle cx="5" cy="10.5" r="1.5" fill="#d6338b"/></svg><svg style="position:absolute;left:1838.5px;top:217.0px;overflow:visible" width="7" height="4" viewBox="0 0 7 4"><path d="M0,0 L7,0 L3.5,4 Z" fill="#111"/></svg><svg style="position:absolute;left:1865px;top:210px;overflow:visible" width="16" height="16" viewBox="0 0 16 16"><circle cx="8" cy="8" r="6.5" fill="none" stroke="#3a8fd6" stroke-width="2.5" stroke-dasharray="5,2"/><circle cx="8" cy="8" r="3" fill="#f9fafd"/></svg><svg style="position:absolute;left:1887.5px;top:217.0px;overflow:visible" width="7" height="4" viewBox="0 0 7 4"><path d="M0,0 L7,0 L3.5,4 Z" fill="#111"/></svg><svg style="position:absolute;left:1905px;top:211px;overflow:visible" width="17" height="14" viewBox="0 0 17 14"><rect x="0.5" y="3" width="16" height="10.5" rx="1.5" fill="#3a8fd6"/><rect x="5" y="0.5" width="6" height="3" fill="#3a8fd6"/><circle cx="8.5" cy="8" r="3.2" fill="#fff"/><circle cx="8.5" cy="8" r="2" fill="#3a8fd6"/></svg><svg style="position:absolute;left:1929px;top:210px;overflow:visible" width="16" height="16" viewBox="0 0 16 16"><rect x="3.5" y="0.5" width="9" height="4" fill="#fff" stroke="#3a8fd6" stroke-width="1.1"/><rect x="0.5" y="4.5" width="15" height="7" rx="1.5" fill="#c6dcf2" stroke="#3a8fd6" stroke-width="1.1"/><rect x="3.5" y="9.5" width="9" height="6" fill="#fff" stroke="#3a8fd6" stroke-width="1.1"/></svg><div style="position:absolute;left:1286px;top:230px;width:1269px;height:889px;background:#fff;border-radius:0 0 5px 5px"></div><svg style="position:absolute;left:0px;top:0px;overflow:visible" width="2559" height="1387" viewBox="0 0 2559 1387"><path d="M1425.9,387.35720000000003 A302.8428,302.8428 0 0 1 1425.9,993.0428 L1425.9,878.8976 A188.69759999999997,188.69759999999997 0 0 0 1425.9,501.5024000000001 Z" fill="#b3b3f2"/><path d="M1425.9,501.5024000000001 A188.69759999999997,188.69759999999997 0 0 1 1425.9,878.8976 Z" fill="#c8c8c8"/><path d="M1425.9,387.35720000000003 A302.8428,302.8428 0 0 1 1425.9,993.0428" fill="none" stroke="#1717f8" stroke-width="1.6"/><path d="M1425.9,501.5024000000001 A188.69759999999997,188.69759999999997 0 0 1 1425.9,878.8976" fill="none" stroke="#1717f8" stroke-width="1.6"/><path d="M1614.5976,690.2 H1728.7428" stroke="#1717f8" stroke-width="1.6"/><path d="M1463.3868,690.2 H1614.5976" stroke="#111" stroke-width="1"/><path d="M1425.9,652.7132 A37.4868,37.4868 0 0 1 1425.9,727.6868000000001" fill="none" stroke="#111" stroke-width="1"/><path d="M1425.9,240.8 V1095.8" stroke="#c9c9c9" stroke-width="1.7" stroke-dasharray="1,3.5,15,3.5"/><path d="M1425.9,387.35720000000003 V501.5024000000001 M1425.9,878.8976 V993.0428" stroke="#1717f8" stroke-width="1.3" stroke-dasharray="6,2,1.5,2"/><path d="M1425.9,501.5024000000001 V878.8976" stroke="#555" stroke-width="1.2" stroke-dasharray="6,2,1.5,2"/><rect x="1336.8" y="238.8" width="1209.3999999999999" height="857.0" fill="none" stroke="#6a6a6a" stroke-width="1.6"/><path d="M1341.7,231.8 V238.8 M1341.7,1095.8 V1102.8 M1425.9,231.8 V238.8 M1425.9,1095.8 V1102.8 M1510.1,231.8 V238.8 M1510.1,1095.8 V1102.8 M1594.4,231.8 V238.8 M1594.4,1095.8 V1102.8 M1678.6,231.8 V238.8 M1678.6,1095.8 V1102.8 M1762.9,231.8 V238.8 M1762.9,1095.8 V1102.8 M1847.1,231.8 V238.8 M1847.1,1095.8 V1102.8 M1931.3,231.8 V238.8 M1931.3,1095.8 V1102.8 M2015.6,231.8 V238.8 M2015.6,1095.8 V1102.8 M2099.8,231.8 V238.8 M2099.8,1095.8 V1102.8 M2184.1,231.8 V238.8 M2184.1,1095.8 V1102.8 M2268.3,231.8 V238.8 M2268.3,1095.8 V1102.8 M2352.5,231.8 V238.8 M2352.5,1095.8 V1102.8 M2436.8,231.8 V238.8 M2436.8,1095.8 V1102.8 M2521.0,231.8 V238.8 M2521.0,1095.8 V1102.8 M1329.8,1027.2 H1336.8 M2546.2,1027.2 H2553.2 M1329.8,942.9 H1336.8 M2546.2,942.9 H2553.2 M1329.8,858.7 H1336.8 M2546.2,858.7 H2553.2 M1329.8,774.4 H1336.8 M2546.2,774.4 H2553.2 M1329.8,690.2 H1336.8 M2546.2,690.2 H2553.2 M1329.8,606.0 H1336.8 M2546.2,606.0 H2553.2 M1329.8,521.7 H1336.8 M2546.2,521.7 H2553.2 M1329.8,437.5 H1336.8 M2546.2,437.5 H2553.2 M1329.8,353.2 H1336.8 M2546.2,353.2 H2553.2 M1329.8,269.0 H1336.8 M2546.2,269.0 H2553.2" stroke="#6a6a6a" stroke-width="1.6"/><path d="M1333,963 L1337.5,968 L1333,973Z" fill="#111"/><path d="M1397,1101 L1402,1095.5 L1407,1101Z" fill="#111"/></svg><div style="position:absolute;left:1342.66px;top:1100.5px;line-height:18px;font-size:12.3px;color:#111;white-space:nowrap;font-family:"Liberation Sans",sans-serif;letter-spacing:0.6px;">-20</div><div style="position:absolute;left:1426.9px;top:1100.5px;line-height:18px;font-size:12.3px;color:#111;white-space:nowrap;font-family:"Liberation Sans",sans-serif;letter-spacing:0.6px;">0</div><div style="position:absolute;left:1511.14px;top:1100.5px;line-height:18px;font-size:12.3px;color:#111;white-space:nowrap;font-family:"Liberation Sans",sans-serif;letter-spacing:0.6px;">20</div><div style="position:absolute;left:1595.38px;top:1100.5px;line-height:18px;font-size:12.3px;color:#111;white-space:nowrap;font-family:"Liberation Sans",sans-serif;letter-spacing:0.6px;">40</div><div style="position:absolute;left:1679.6200000000001px;top:1100.5px;line-height:18px;font-size:12.3px;color:#111;white-space:nowrap;font-family:"Liberation Sans",sans-serif;letter-spacing:0.6px;">60</div><div style="position:absolute;left:1763.8600000000001px;top:1100.5px;line-height:18px;font-size:12.3px;color:#111;white-space:nowrap;font-family:"Liberation Sans",sans-serif;letter-spacing:0.6px;">80</div><div style="position:absolute;left:1848.1000000000001px;top:1100.5px;line-height:18px;font-size:12.3px;color:#111;white-space:nowrap;font-family:"Liberation Sans",sans-serif;letter-spacing:0.6px;">100</div><div style="position:absolute;left:1932.3400000000001px;top:1100.5px;line-height:18px;font-size:12.3px;color:#111;white-space:nowrap;font-family:"Liberation Sans",sans-serif;letter-spacing:0.6px;">120</div><div style="position:absolute;left:2016.58px;top:1100.5px;line-height:18px;font-size:12.3px;color:#111;white-space:nowrap;font-family:"Liberation Sans",sans-serif;letter-spacing:0.6px;">140</div><div style="position:absolute;left:2100.82px;top:1100.5px;line-height:18px;font-size:12.3px;color:#111;white-space:nowrap;font-family:"Liberation Sans",sans-serif;letter-spacing:0.6px;">160</div><div style="position:absolute;left:2185.06px;top:1100.5px;line-height:18px;font-size:12.3px;color:#111;white-space:nowrap;font-family:"Liberation Sans",sans-serif;letter-spacing:0.6px;">180</div><div style="position:absolute;left:2269.3px;top:1100.5px;line-height:18px;font-size:12.3px;color:#111;white-space:nowrap;font-family:"Liberation Sans",sans-serif;letter-spacing:0.6px;">200</div><div style="position:absolute;left:2353.54px;top:1100.5px;line-height:18px;font-size:12.3px;color:#111;white-space:nowrap;font-family:"Liberation Sans",sans-serif;letter-spacing:0.6px;">220</div><div style="position:absolute;left:2437.7799999999997px;top:1100.5px;line-height:18px;font-size:12.3px;color:#111;white-space:nowrap;font-family:"Liberation Sans",sans-serif;letter-spacing:0.6px;">240</div><div style="position:absolute;left:2522.02px;top:1100.5px;line-height:18px;font-size:12.3px;color:#111;white-space:nowrap;font-family:"Liberation Sans",sans-serif;letter-spacing:0.6px;">260</div><div style="position:absolute;left:1268.0px;top:1024.7px;width:60px;text-align:right;line-height:18px;font-size:12.3px;color:#111;white-space:nowrap;letter-spacing:0.6px;">-80</div><div style="position:absolute;left:1268.0px;top:940.4px;width:60px;text-align:right;line-height:18px;font-size:12.3px;color:#111;white-space:nowrap;letter-spacing:0.6px;">-60</div><div style="position:absolute;left:1268.0px;top:856.2px;width:60px;text-align:right;line-height:18px;font-size:12.3px;color:#111;white-space:nowrap;letter-spacing:0.6px;">-40</div><div style="position:absolute;left:1268.0px;top:771.9px;width:60px;text-align:right;line-height:18px;font-size:12.3px;color:#111;white-space:nowrap;letter-spacing:0.6px;">-20</div><div style="position:absolute;left:1268.0px;top:687.7px;width:60px;text-align:right;line-height:18px;font-size:12.3px;color:#111;white-space:nowrap;letter-spacing:0.6px;">0</div><div style="position:absolute;left:1268.0px;top:603.5px;width:60px;text-align:right;line-height:18px;font-size:12.3px;color:#111;white-space:nowrap;letter-spacing:0.6px;">20</div><div style="position:absolute;left:1268.0px;top:519.2px;width:60px;text-align:right;line-height:18px;font-size:12.3px;color:#111;white-space:nowrap;letter-spacing:0.6px;">40</div><div style="position:absolute;left:1268.0px;top:435.0px;width:60px;text-align:right;line-height:18px;font-size:12.3px;color:#111;white-space:nowrap;letter-spacing:0.6px;">60</div><div style="position:absolute;left:1268.0px;top:350.7px;width:60px;text-align:right;line-height:18px;font-size:12.3px;color:#111;white-space:nowrap;letter-spacing:0.6px;">80</div><div style="position:absolute;left:1268.0px;top:266.5px;width:60px;text-align:right;line-height:18px;font-size:12.3px;color:#111;white-space:nowrap;letter-spacing:0.6px;">100</div><div style="position:absolute;left:1343px;top:237.0px;line-height:18px;font-size:11.5px;color:#111;white-space:nowrap;">μm</div><div style="position:absolute;left:2523px;top:1076.0px;line-height:18px;font-size:11.5px;color:#111;white-space:nowrap;">μm</div><div style="position:absolute;left:1428px;top:1078.0px;line-height:18px;font-size:11.5px;color:#aaa;white-space:nowrap;">r=0</div><svg style="position:absolute;left:2520px;top:243px;overflow:visible" width="21" height="20" viewBox="0 0 21 20"><path d="M1,4 L17,1 L20,16 L4,19Z" fill="#e8e8ea"/><rect x="4" y="5" width="13" height="10" rx="3" fill="#1c3f9a"/><path d="M6.5,7 H15 V13 H6.5Z" fill="#e8d445"/><path d="M6.5,13 L15,7 V13Z" fill="#4fb3e8"/></svg><div style="position:absolute;left:1286px;top:1126px;width:1270px;height:234px;background:#f9fafd;border-radius:5px 5px 1px 1px;box-shadow:0 0 1px rgba(0,0,0,0.12)"></div><div style="position:absolute;left:1298px;top:1132.5px;line-height:18px;font-size:12.8px;color:#2f7cc4;white-space:nowrap;">Messages</div><svg style="position:absolute;left:1365px;top:1138px;overflow:visible" width="8" height="8" viewBox="0 0 8 8"><path d="M0.5,0.5 L7.5,7.5 M7.5,0.5 L0.5,7.5" stroke="#999" stroke-width="1"/></svg><div style="position:absolute;left:1294px;top:1154px;width:87px;height:3px;background:#2f7cc4"></div><div style="position:absolute;left:1404px;top:1132.5px;line-height:18px;font-size:12.8px;color:#333;white-space:nowrap;">Progress</div><div style="position:absolute;left:1483px;top:1132.5px;line-height:18px;font-size:12.8px;color:#333;white-space:nowrap;">Log</div><div style="position:absolute;left:1532px;top:1132.5px;line-height:18px;font-size:12.8px;color:#333;white-space:nowrap;">Probe Table 1</div><svg style="position:absolute;left:1621px;top:1138px;overflow:visible" width="8" height="8" viewBox="0 0 8 8"><path d="M0.5,0.5 L7.5,7.5 M7.5,0.5 L0.5,7.5" stroke="#999" stroke-width="1"/></svg><svg style="position:absolute;left:2512px;top:1137px;overflow:visible" width="10" height="6" viewBox="0 0 10 6"><path d="M0,0 H10 L5,5Z" fill="#a8a8ad"/></svg><svg style="position:absolute;left:2526px;top:1135px;overflow:visible" width="11" height="10" viewBox="0 0 11 10"><rect x="0.5" y="0.5" width="10" height="8" fill="none" stroke="#a8a8ad" stroke-width="1"/><path d="M0.5,1.5 H10.5" stroke="#a8a8ad" stroke-width="1.5"/></svg><svg style="position:absolute;left:2542px;top:1134px;overflow:visible" width="9" height="13" viewBox="0 0 9 13"><rect x="2" y="0" width="5" height="7" fill="#a8a8ad"/><rect x="0" y="6" width="9" height="2" fill="#a8a8ad"/><path d="M4.5,8 V13" stroke="#a8a8ad" stroke-width="1.2"/></svg><div style="position:absolute;left:1286px;top:1157px;width:1270px;height:1px;background:#d5d6db"></div><svg style="position:absolute;left:1295px;top:1160px;overflow:visible" width="12" height="16" viewBox="0 0 12 16"><path d="M1,0 L5,9" stroke="#555" stroke-width="1"/><path d="M3,8 L7,8 L10,15 L4,15Z" fill="#f0a43a"/></svg><div style="position:absolute;left:1314px;top:1159px;width:20px;height:19px;background:#cfe5f8;border:1px solid #9cc7ec;border-radius:2px;box-sizing:border-box"></div><svg style="position:absolute;left:1316px;top:1161px;overflow:visible" width="16" height="14" viewBox="0 0 16 14"><rect x="0.5" y="0.5" width="12" height="9" fill="#fff" stroke="#3a8fd6" stroke-width="1"/><rect x="3.5" y="4.5" width="12" height="9" fill="#fff" stroke="#3a8fd6" stroke-width="1"/><path d="M3.5,4.5 L9.5,9.5 L15.5,4.5" fill="none" stroke="#3a8fd6"/></svg><div style="position:absolute;left:1290px;top:1182px;width:1261px;height:174px;background:#f9fafd;border:1px solid #d2d3d8;box-sizing:border-box"></div><div style="position:absolute;left:1291px;top:1183px;width:1243px;height:172px;overflow:hidden"><div style="position:absolute;left:2px;top:-8.5px;line-height:15px;font-size:11.6px;color:#111;white-space:nowrap;">[May 15, 2025, 5:58 PM] Number of degrees of freedom solved for: 1564 (plus 2 internal DOFs).</div><div style="position:absolute;left:2px;top:6.5px;line-height:15px;font-size:11.6px;color:#111;white-space:nowrap;">[May 15, 2025, 6:20 PM] Number of degrees of freedom solved for: 1564 (plus 2 internal DOFs).</div><div style="position:absolute;left:2px;top:21.5px;line-height:15px;font-size:11.6px;color:#111;white-space:nowrap;">[May 15, 2025, 6:24 PM] Number of degrees of freedom solved for: 1564 (plus 2 internal DOFs).</div><div style="position:absolute;left:2px;top:36.5px;line-height:15px;font-size:11.6px;color:#111;white-space:nowrap;letter-spacing:0.07px;">[May 15, 2025, 6:42 PM] Saved file: C:\Users\User\Desktop\Ali\horn_modal2.mph (38 MB)</div><div style="position:absolute;left:2px;top:51.5px;line-height:15px;font-size:11.6px;color:#111;white-space:nowrap;letter-spacing:0.105px;">[May 15, 2025, 6:42 PM] Opened file: C:\Users\User\Desktop\Ali\eigenmodes_air_bubble_Harmonic.mph</div><div style="position:absolute;left:2px;top:66.5px;line-height:15px;font-size:11.6px;color:#111;white-space:nowrap;">[May 15, 2025, 6:47 PM] Number of degrees of freedom solved for: 7523.</div><div style="position:absolute;left:2px;top:81.5px;line-height:15px;font-size:11.6px;color:#111;white-space:nowrap;">[May 15, 2025, 6:47 PM] Solution time (Study 3): 7 s.</div><div style="position:absolute;left:2px;top:96.5px;line-height:15px;font-size:11.6px;color:#111;white-space:nowrap;">[May 15, 2025, 6:51 PM] Number of degrees of freedom solved for: 18810.</div><div style="position:absolute;left:2px;top:111.5px;line-height:15px;font-size:11.6px;color:#111;white-space:nowrap;">[May 15, 2025, 6:51 PM] Solution time (Study 3): 8 s.</div><div style="position:absolute;left:2px;top:126.5px;line-height:15px;font-size:11.6px;color:#111;white-space:nowrap;">[May 15, 2025, 7:13 PM] Formed union of 2 solid objects.</div><div style="position:absolute;left:2px;top:141.5px;line-height:15px;font-size:11.6px;color:#111;white-space:nowrap;">[May 15, 2025, 7:13 PM] Finalized geometry has 5 domains, 14 boundaries, and 10 vertices.</div></div><div style="position:absolute;left:2534px;top:1183px;width:16px;height:172px;background:#f9fafd"></div><div style="position:absolute;left:2534px;top:1200px;width:16px;height:25px;background:#fff"></div><div style="position:absolute;left:2534px;top:1225px;width:16px;height:113px;background:#e6e6e6"></div><svg style="position:absolute;left:2538px;top:1188px;overflow:visible" width="9" height="6" viewBox="0 0 9 6"><path d="M0.5,5 L4.5,1 L8.5,5" fill="none" stroke="#c8c8c8" stroke-width="1"/></svg><svg style="position:absolute;left:2538px;top:1344px;overflow:visible" width="9" height="6" viewBox="0 0 9 6"><path d="M0.5,1 L4.5,5 L8.5,1" fill="none" stroke="#c8c8c8" stroke-width="1"/></svg><div style="position:absolute;left:1881px;top:1367.5px;line-height:18px;font-size:10.9px;color:#111;white-space:nowrap;">2.35 GB | 3.19 GB</div>
</body></html>
